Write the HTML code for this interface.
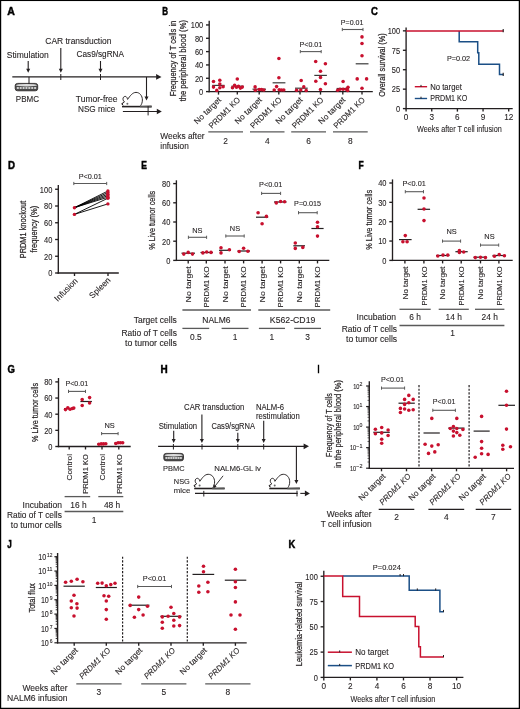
<!DOCTYPE html>
<html><head><meta charset="utf-8"><style>
html,body{margin:0;padding:0;background:#fff;width:520px;height:709px;overflow:hidden}
svg{display:block;will-change:transform}
text{font-family:"Liberation Sans", sans-serif;fill:#231f20;stroke:#231f20;stroke-width:0.1px}
</style></head><body>
<svg width="520" height="709" viewBox="0 0 520 709">
<rect width="520" height="709" fill="#fff"/>
<rect x="0" y="0" width="1.2" height="709" fill="#000"/>
<rect x="0" y="0" width="520" height="1.05" fill="#000"/>
<rect x="518.75" y="0" width="1.25" height="709" fill="#000"/>
<rect x="0" y="707.75" width="520" height="1.25" fill="#000"/>
<text x="7.3" y="14.6" textLength="7.6" lengthAdjust="spacingAndGlyphs" font-size="10.4" font-weight="bold" fill="#000" style="stroke:#000;stroke-width:0.45px;fill:#000">A</text>
<text x="45.3" y="44.2" textLength="66.2" lengthAdjust="spacingAndGlyphs" font-size="8.6">CAR transduction</text>
<text x="6.8" y="58.2" textLength="42" lengthAdjust="spacingAndGlyphs" font-size="8.6">Stimulation</text>
<text x="76.6" y="56.7" textLength="47.4" lengthAdjust="spacingAndGlyphs" font-size="8.6">Cas9/sgRNA</text>
<line x1="12.3" y1="76.9" x2="156.6" y2="76.9" stroke="#231f20" stroke-width="1.3"/>
<polygon points="156.1,74 156.1,79.8 161.5,76.9" fill="#231f20"/>
<line x1="28.2" y1="61" x2="28.2" y2="69.3" stroke="#231f20" stroke-width="1.1"/>
<polygon points="26.2,68.8 30.2,68.8 28.2,72.8" fill="#231f20"/>
<line x1="60.8" y1="48" x2="60.8" y2="69.3" stroke="#231f20" stroke-width="1.1"/>
<polygon points="58.8,68.8 62.8,68.8 60.8,72.8" fill="#231f20"/>
<line x1="100.5" y1="61" x2="100.5" y2="69.3" stroke="#231f20" stroke-width="1.1"/>
<polygon points="98.5,68.8 102.5,68.8 100.5,72.8" fill="#231f20"/>
<line x1="60.8" y1="74" x2="60.8" y2="80" stroke="#231f20" stroke-width="1.0"/>
<line x1="100.5" y1="74" x2="100.5" y2="80" stroke="#231f20" stroke-width="1.0"/>
<line x1="29" y1="77" x2="29" y2="86" stroke="#231f20" stroke-width="1.0"/>
<rect x="15.2" y="83.4" width="22.5" height="7.4" rx="2.4" ry="2.2" fill="#4a4a4a" stroke="#231f20" stroke-width="0.8"/>
<ellipse cx="26.45" cy="85.2" rx="10.55" ry="1.3" fill="#dcdcdc"/>
<ellipse cx="17.8" cy="88" rx="1.25" ry="0.95" fill="#d8d8d8"/>
<ellipse cx="20.68" cy="88" rx="1.25" ry="0.95" fill="#d8d8d8"/>
<ellipse cx="23.57" cy="88" rx="1.25" ry="0.95" fill="#d8d8d8"/>
<ellipse cx="26.45" cy="88" rx="1.25" ry="0.95" fill="#d8d8d8"/>
<ellipse cx="29.33" cy="88" rx="1.25" ry="0.95" fill="#d8d8d8"/>
<ellipse cx="32.22" cy="88" rx="1.25" ry="0.95" fill="#d8d8d8"/>
<ellipse cx="35.1" cy="88" rx="1.25" ry="0.95" fill="#d8d8d8"/>
<text x="15.8" y="101.6" textLength="23.2" lengthAdjust="spacingAndGlyphs" font-size="8.4">PBMC</text>
<text x="75.8" y="102.2" textLength="41.8" lengthAdjust="spacingAndGlyphs" font-size="8.4">Tumor-free</text>
<text x="77.95" y="112" textLength="37.5" lengthAdjust="spacingAndGlyphs" font-size="8.4">NSG mice</text>
<line x1="146.5" y1="77" x2="146.5" y2="97.1" stroke="#231f20" stroke-width="1.1"/>
<polygon points="144.5,96.6 148.5,96.6 146.5,100.6" fill="#231f20"/>
<path d="M127.6,99.4 C130,96 132.5,92.4 136,92.4 C139.6,92.4 142.4,95.6 142.4,100 C142.4,102.6 141.5,104.3 140.6,105.8" stroke="#231f20" stroke-width="0.95" fill="none"/>
<path d="M127.6,99.4 C127.2,97.8 126.5,96.4 125.3,96.4 C123.8,96.4 122.8,97.6 123,99.4 C123.1,100.6 123.8,101.4 124.5,101.9 L121.8,103.7 L123.2,105.4" stroke="#231f20" stroke-width="0.95" fill="none"/>
<circle cx="122.4" cy="104" r="0.75" fill="#231f20"/>
<circle cx="127.4" cy="103.7" r="1" fill="#666"/>
<line x1="122" y1="106.6" x2="151.6" y2="106.6" stroke="#231f20" stroke-width="1.6"/>
<path d="M140,106 L151.6,105.5 L151.6,107.4 L140,107.3 Z" fill="#555"/>
<line x1="122.9" y1="111.5" x2="157.3" y2="111.5" stroke="#231f20" stroke-width="1.1"/>
<polygon points="156.8,108.8 156.8,114.2 161.8,111.5" fill="#231f20"/>
<line x1="148.1" y1="106.1" x2="148.1" y2="115.4" stroke="#231f20" stroke-width="1.0"/>
<text x="162.3" y="14.6" textLength="5.8" lengthAdjust="spacingAndGlyphs" font-size="10.4" font-weight="bold" fill="#000" style="stroke:#000;stroke-width:0.45px;fill:#000">B</text>
<line x1="209.2" y1="20.7" x2="209.2" y2="92.27" stroke="#231f20" stroke-width="1.35"/>
<line x1="206" y1="91.6" x2="209.2" y2="91.6" stroke="#231f20" stroke-width="1.35"/>
<text x="199.05" y="94.9" textLength="4.15" lengthAdjust="spacingAndGlyphs" font-size="8.4">0</text>
<line x1="206" y1="78.27" x2="209.2" y2="78.27" stroke="#231f20" stroke-width="1.35"/>
<text x="194.9" y="81.57" textLength="8.3" lengthAdjust="spacingAndGlyphs" font-size="8.4">20</text>
<line x1="206" y1="64.94" x2="209.2" y2="64.94" stroke="#231f20" stroke-width="1.35"/>
<text x="194.9" y="68.24" textLength="8.3" lengthAdjust="spacingAndGlyphs" font-size="8.4">40</text>
<line x1="206" y1="51.61" x2="209.2" y2="51.61" stroke="#231f20" stroke-width="1.35"/>
<text x="194.9" y="54.91" textLength="8.3" lengthAdjust="spacingAndGlyphs" font-size="8.4">60</text>
<line x1="206" y1="38.28" x2="209.2" y2="38.28" stroke="#231f20" stroke-width="1.35"/>
<text x="194.9" y="41.58" textLength="8.3" lengthAdjust="spacingAndGlyphs" font-size="8.4">80</text>
<line x1="206" y1="24.95" x2="209.2" y2="24.95" stroke="#231f20" stroke-width="1.35"/>
<text x="190.75" y="28.25" textLength="12.45" lengthAdjust="spacingAndGlyphs" font-size="8.4">100</text>
<line x1="208.52" y1="91.6" x2="372.8" y2="91.6" stroke="#231f20" stroke-width="1.35"/>
<line x1="218.5" y1="91.6" x2="218.5" y2="94.6" stroke="#231f20" stroke-width="1.35"/>
<line x1="237.3" y1="91.6" x2="237.3" y2="94.6" stroke="#231f20" stroke-width="1.35"/>
<line x1="259.2" y1="91.6" x2="259.2" y2="94.6" stroke="#231f20" stroke-width="1.35"/>
<line x1="278.8" y1="91.6" x2="278.8" y2="94.6" stroke="#231f20" stroke-width="1.35"/>
<line x1="300" y1="91.6" x2="300" y2="94.6" stroke="#231f20" stroke-width="1.35"/>
<line x1="320.5" y1="91.6" x2="320.5" y2="94.6" stroke="#231f20" stroke-width="1.35"/>
<line x1="342.8" y1="91.6" x2="342.8" y2="94.6" stroke="#231f20" stroke-width="1.35"/>
<line x1="362" y1="91.6" x2="362" y2="94.6" stroke="#231f20" stroke-width="1.35"/>
<text transform="translate(175.85,58.5) rotate(-90)" x="-37.75" y="0" textLength="75.5" lengthAdjust="spacingAndGlyphs" font-size="8.8" style="stroke-width:0.22px">Frequency of T cells in</text>
<text transform="translate(185.95,60.7) rotate(-90)" x="-40.65" y="0" textLength="81.3" lengthAdjust="spacingAndGlyphs" font-size="8.8" style="stroke-width:0.22px">the peripheral blood (%)</text>
<line x1="212.2" y1="85.4" x2="224.6" y2="85.4" stroke="#3a3a3a" stroke-width="1.2"/>
<line x1="231.4" y1="86.2" x2="243.7" y2="86.2" stroke="#3a3a3a" stroke-width="1.2"/>
<line x1="252.5" y1="89.2" x2="266" y2="89.2" stroke="#3a3a3a" stroke-width="1.2"/>
<line x1="272.6" y1="82.8" x2="285.4" y2="82.8" stroke="#3a3a3a" stroke-width="1.2"/>
<line x1="295" y1="88.2" x2="307.7" y2="88.2" stroke="#3a3a3a" stroke-width="1.2"/>
<line x1="314.3" y1="75.4" x2="326.9" y2="75.4" stroke="#3a3a3a" stroke-width="1.2"/>
<line x1="336.6" y1="88.5" x2="348.9" y2="88.5" stroke="#3a3a3a" stroke-width="1.2"/>
<line x1="355.7" y1="63.8" x2="368.5" y2="63.8" stroke="#3a3a3a" stroke-width="1.2"/>
<line x1="300.3" y1="51.6" x2="321.2" y2="51.6" stroke="#5a5a5a" stroke-width="1.1"/>
<line x1="300.3" y1="50" x2="300.3" y2="53.2" stroke="#5a5a5a" stroke-width="0.9900000000000001"/>
<line x1="321.2" y1="50" x2="321.2" y2="53.2" stroke="#5a5a5a" stroke-width="0.9900000000000001"/>
<text x="299.6" y="46.9" textLength="22.6" lengthAdjust="spacingAndGlyphs" font-size="7.2">P&lt;0.01</text>
<line x1="342.3" y1="29.5" x2="363" y2="29.5" stroke="#5a5a5a" stroke-width="1.1"/>
<line x1="342.3" y1="27.9" x2="342.3" y2="31.1" stroke="#5a5a5a" stroke-width="0.9900000000000001"/>
<line x1="363" y1="27.9" x2="363" y2="31.1" stroke="#5a5a5a" stroke-width="0.9900000000000001"/>
<text x="340.8" y="24.6" textLength="22.6" lengthAdjust="spacingAndGlyphs" font-size="7.2">P=0.01</text>
<text transform="translate(221.7,100.4) rotate(-45)" x="-34.5" y="0" textLength="34.5" lengthAdjust="spacingAndGlyphs" font-size="8.2">No target</text>
<text transform="translate(240.7,100.4) rotate(-45)" x="-40.5" y="0" textLength="40.5" lengthAdjust="spacingAndGlyphs" font-size="8.2">PRDM1 KO</text>
<text transform="translate(262.4,100.4) rotate(-45)" x="-34.5" y="0" textLength="34.5" lengthAdjust="spacingAndGlyphs" font-size="8.2">No target</text>
<text transform="translate(282.2,100.4) rotate(-45)" x="-40.5" y="0" textLength="40.5" lengthAdjust="spacingAndGlyphs" font-size="8.2">PRDM1 KO</text>
<text transform="translate(303.2,100.4) rotate(-45)" x="-34.5" y="0" textLength="34.5" lengthAdjust="spacingAndGlyphs" font-size="8.2">No target</text>
<text transform="translate(323.9,100.4) rotate(-45)" x="-40.5" y="0" textLength="40.5" lengthAdjust="spacingAndGlyphs" font-size="8.2">PRDM1 KO</text>
<text transform="translate(346,100.4) rotate(-45)" x="-34.5" y="0" textLength="34.5" lengthAdjust="spacingAndGlyphs" font-size="8.2">No target</text>
<text transform="translate(365.4,100.4) rotate(-45)" x="-40.5" y="0" textLength="40.5" lengthAdjust="spacingAndGlyphs" font-size="8.2">PRDM1 KO</text>
<line x1="208.3" y1="131.8" x2="243" y2="131.8" stroke="#5a5a5a" stroke-width="1.3"/>
<text x="225.65" y="143.8" font-size="8.4" text-anchor="middle">2</text>
<line x1="250" y1="131.8" x2="284.5" y2="131.8" stroke="#5a5a5a" stroke-width="1.3"/>
<text x="267.25" y="143.8" font-size="8.4" text-anchor="middle">4</text>
<line x1="291.2" y1="131.8" x2="326" y2="131.8" stroke="#5a5a5a" stroke-width="1.3"/>
<text x="308.6" y="143.8" font-size="8.4" text-anchor="middle">6</text>
<line x1="333" y1="131.8" x2="367.7" y2="131.8" stroke="#5a5a5a" stroke-width="1.3"/>
<text x="350.35" y="143.8" font-size="8.4" text-anchor="middle">8</text>
<text x="160.3" y="138.6" textLength="44.3" lengthAdjust="spacingAndGlyphs" font-size="8.4">Weeks after</text>
<text x="160.3" y="148.5" textLength="28.5" lengthAdjust="spacingAndGlyphs" font-size="8.4">infusion</text>
<text x="371.1" y="14.8" textLength="6.9" lengthAdjust="spacingAndGlyphs" font-size="10.8" font-weight="bold" fill="#000" style="stroke:#000;stroke-width:0.45px;fill:#000">C</text>
<line x1="406.1" y1="27.4" x2="406.1" y2="109.27" stroke="#231f20" stroke-width="1.35"/>
<line x1="402.9" y1="108.6" x2="406.1" y2="108.6" stroke="#231f20" stroke-width="1.35"/>
<text x="395.95" y="111.9" textLength="4.15" lengthAdjust="spacingAndGlyphs" font-size="8.4">0</text>
<line x1="402.9" y1="89.16" x2="406.1" y2="89.16" stroke="#231f20" stroke-width="1.35"/>
<text x="391.8" y="92.46" textLength="8.3" lengthAdjust="spacingAndGlyphs" font-size="8.4">25</text>
<line x1="402.9" y1="69.72" x2="406.1" y2="69.72" stroke="#231f20" stroke-width="1.35"/>
<text x="391.8" y="73.02" textLength="8.3" lengthAdjust="spacingAndGlyphs" font-size="8.4">50</text>
<line x1="402.9" y1="50.29" x2="406.1" y2="50.29" stroke="#231f20" stroke-width="1.35"/>
<text x="391.8" y="53.59" textLength="8.3" lengthAdjust="spacingAndGlyphs" font-size="8.4">75</text>
<line x1="402.9" y1="30.85" x2="406.1" y2="30.85" stroke="#231f20" stroke-width="1.35"/>
<text x="387.65" y="34.15" textLength="12.45" lengthAdjust="spacingAndGlyphs" font-size="8.4">100</text>
<line x1="405.43" y1="108.6" x2="512.7" y2="108.6" stroke="#231f20" stroke-width="1.35"/>
<line x1="406.1" y1="108.6" x2="406.1" y2="111.6" stroke="#231f20" stroke-width="1.35"/>
<line x1="431.75" y1="108.6" x2="431.75" y2="111.6" stroke="#231f20" stroke-width="1.35"/>
<line x1="457.4" y1="108.6" x2="457.4" y2="111.6" stroke="#231f20" stroke-width="1.35"/>
<line x1="483.05" y1="108.6" x2="483.05" y2="111.6" stroke="#231f20" stroke-width="1.35"/>
<line x1="508.7" y1="108.6" x2="508.7" y2="111.6" stroke="#231f20" stroke-width="1.35"/>
<text x="406.1" y="119.9" font-size="8.2" text-anchor="middle">0</text>
<text x="431.75" y="119.9" font-size="8.2" text-anchor="middle">3</text>
<text x="457.4" y="119.9" font-size="8.2" text-anchor="middle">6</text>
<text x="483.05" y="119.9" font-size="8.2" text-anchor="middle">9</text>
<text x="508.7" y="119.9" font-size="8.2" text-anchor="middle">12</text>
<text x="417.1" y="132.2" textLength="84.6" lengthAdjust="spacingAndGlyphs" font-size="9.5">Weeks after T cell infusion</text>
<text transform="translate(384.5,65) rotate(-90)" x="-31.7" y="0" textLength="63.4" lengthAdjust="spacingAndGlyphs" font-size="8.5" style="stroke-width:0.22px">Overall survival (%)</text>
<path d="M459.2,30.9 V41.8 H477.7 V52.8 H478.8 V64.2 H499.5 V74.6 H503.5" stroke="#1b4f86" stroke-width="1.5" fill="none"/>
<path d="M406.1,30.9 H503.5" stroke="#c8102e" stroke-width="1.5" fill="none"/>
<line x1="503.2" y1="29" x2="503.2" y2="32.2" stroke="#231f20" stroke-width="1.1"/>
<line x1="503.2" y1="72.8" x2="503.2" y2="76" stroke="#231f20" stroke-width="1.1"/>
<text x="446.9" y="60.9" textLength="23.2" lengthAdjust="spacingAndGlyphs" font-size="7.4">P=0.02</text>
<line x1="414.8" y1="86.7" x2="427.1" y2="86.7" stroke="#c8102e" stroke-width="1.4"/>
<line x1="421" y1="84.9" x2="421" y2="86.8" stroke="#231f20" stroke-width="1.0"/>
<text x="430.2" y="89.9" textLength="31.7" lengthAdjust="spacingAndGlyphs" font-size="8.2">No target</text>
<line x1="414.8" y1="98.5" x2="427.1" y2="98.5" stroke="#1b4f86" stroke-width="1.4"/>
<line x1="421" y1="96.7" x2="421" y2="98.6" stroke="#231f20" stroke-width="1.0"/>
<text x="430.2" y="100.5" textLength="37.1" lengthAdjust="spacingAndGlyphs" font-size="8.2">PRDM1 KO</text>
<text x="8" y="168.6" textLength="7" lengthAdjust="spacingAndGlyphs" font-size="10.4" font-weight="bold" fill="#000" style="stroke:#000;stroke-width:0.45px;fill:#000">D</text>
<line x1="58.3" y1="185" x2="58.3" y2="273.68" stroke="#231f20" stroke-width="1.35"/>
<line x1="55.1" y1="273" x2="58.3" y2="273" stroke="#231f20" stroke-width="1.35"/>
<text x="48.15" y="276.3" textLength="4.15" lengthAdjust="spacingAndGlyphs" font-size="8.4">0</text>
<line x1="55.1" y1="256.25" x2="58.3" y2="256.25" stroke="#231f20" stroke-width="1.35"/>
<text x="44" y="259.55" textLength="8.3" lengthAdjust="spacingAndGlyphs" font-size="8.4">20</text>
<line x1="55.1" y1="239.5" x2="58.3" y2="239.5" stroke="#231f20" stroke-width="1.35"/>
<text x="44" y="242.8" textLength="8.3" lengthAdjust="spacingAndGlyphs" font-size="8.4">40</text>
<line x1="55.1" y1="222.75" x2="58.3" y2="222.75" stroke="#231f20" stroke-width="1.35"/>
<text x="44" y="226.05" textLength="8.3" lengthAdjust="spacingAndGlyphs" font-size="8.4">60</text>
<line x1="55.1" y1="206" x2="58.3" y2="206" stroke="#231f20" stroke-width="1.35"/>
<text x="44" y="209.3" textLength="8.3" lengthAdjust="spacingAndGlyphs" font-size="8.4">80</text>
<line x1="55.1" y1="189.25" x2="58.3" y2="189.25" stroke="#231f20" stroke-width="1.35"/>
<text x="39.85" y="192.55" textLength="12.45" lengthAdjust="spacingAndGlyphs" font-size="8.4">100</text>
<line x1="57.62" y1="273" x2="118.8" y2="273" stroke="#231f20" stroke-width="1.35"/>
<line x1="74.5" y1="273" x2="74.5" y2="276" stroke="#231f20" stroke-width="1.35"/>
<line x1="108" y1="273" x2="108" y2="276" stroke="#231f20" stroke-width="1.35"/>
<text transform="translate(26.2,229.5) rotate(-90)" x="-28.75" y="0" textLength="57.5" lengthAdjust="spacingAndGlyphs" font-size="9.5" style="stroke-width:0.22px">PRDM1 knockout</text>
<text transform="translate(36.8,229.2) rotate(-90)" x="-23.4" y="0" textLength="46.8" lengthAdjust="spacingAndGlyphs" font-size="9" style="stroke-width:0.22px">frequency (%)</text>
<line x1="73.8" y1="183.5" x2="106.7" y2="183.5" stroke="#5a5a5a" stroke-width="1.1"/>
<line x1="73.8" y1="181.9" x2="73.8" y2="185.1" stroke="#5a5a5a" stroke-width="0.9900000000000001"/>
<line x1="106.7" y1="181.9" x2="106.7" y2="185.1" stroke="#5a5a5a" stroke-width="0.9900000000000001"/>
<text x="78.7" y="178.8" textLength="23.2" lengthAdjust="spacingAndGlyphs" font-size="7.2">P&lt;0.01</text>
<line x1="74.4" y1="207.7" x2="107.9" y2="191" stroke="#000" stroke-width="0.9"/>
<line x1="74.4" y1="207.7" x2="107.9" y2="192.6" stroke="#000" stroke-width="0.9"/>
<line x1="74.4" y1="207.7" x2="107.9" y2="194.2" stroke="#000" stroke-width="0.9"/>
<line x1="74.4" y1="207.7" x2="107.9" y2="195.7" stroke="#000" stroke-width="0.9"/>
<line x1="74.4" y1="207.7" x2="107.9" y2="197.2" stroke="#000" stroke-width="0.9"/>
<line x1="74.4" y1="214.4" x2="107.9" y2="198.2" stroke="#000" stroke-width="0.9"/>
<line x1="74.4" y1="214.4" x2="107.9" y2="203.9" stroke="#000" stroke-width="0.9"/>
<text transform="translate(78.3,281.4) rotate(-45)" x="-29" y="0" textLength="29" lengthAdjust="spacingAndGlyphs" font-size="8.4">Infusion</text>
<text transform="translate(111,280.6) rotate(-45)" x="-26" y="0" textLength="26" lengthAdjust="spacingAndGlyphs" font-size="8.4">Spleen</text>
<text x="141.3" y="168.7" textLength="5.7" lengthAdjust="spacingAndGlyphs" font-size="10.4" font-weight="bold" fill="#000" style="stroke:#000;stroke-width:0.45px;fill:#000">E</text>
<line x1="176.4" y1="180.3" x2="176.4" y2="261.07" stroke="#231f20" stroke-width="1.35"/>
<line x1="173.2" y1="260.4" x2="176.4" y2="260.4" stroke="#231f20" stroke-width="1.35"/>
<text x="166.25" y="263.7" textLength="4.15" lengthAdjust="spacingAndGlyphs" font-size="8.4">0</text>
<line x1="173.2" y1="241.2" x2="176.4" y2="241.2" stroke="#231f20" stroke-width="1.35"/>
<text x="162.1" y="244.5" textLength="8.3" lengthAdjust="spacingAndGlyphs" font-size="8.4">20</text>
<line x1="173.2" y1="222" x2="176.4" y2="222" stroke="#231f20" stroke-width="1.35"/>
<text x="162.1" y="225.3" textLength="8.3" lengthAdjust="spacingAndGlyphs" font-size="8.4">40</text>
<line x1="173.2" y1="202.8" x2="176.4" y2="202.8" stroke="#231f20" stroke-width="1.35"/>
<text x="162.1" y="206.1" textLength="8.3" lengthAdjust="spacingAndGlyphs" font-size="8.4">60</text>
<line x1="173.2" y1="183.6" x2="176.4" y2="183.6" stroke="#231f20" stroke-width="1.35"/>
<text x="162.1" y="186.9" textLength="8.3" lengthAdjust="spacingAndGlyphs" font-size="8.4">80</text>
<line x1="175.72" y1="260.4" x2="329.3" y2="260.4" stroke="#231f20" stroke-width="1.35"/>
<line x1="188.2" y1="260.4" x2="188.2" y2="263.4" stroke="#231f20" stroke-width="1.35"/>
<line x1="206.3" y1="260.4" x2="206.3" y2="263.4" stroke="#231f20" stroke-width="1.35"/>
<line x1="225" y1="260.4" x2="225" y2="263.4" stroke="#231f20" stroke-width="1.35"/>
<line x1="243.6" y1="260.4" x2="243.6" y2="263.4" stroke="#231f20" stroke-width="1.35"/>
<line x1="262.1" y1="260.4" x2="262.1" y2="263.4" stroke="#231f20" stroke-width="1.35"/>
<line x1="280.6" y1="260.4" x2="280.6" y2="263.4" stroke="#231f20" stroke-width="1.35"/>
<line x1="299.3" y1="260.4" x2="299.3" y2="263.4" stroke="#231f20" stroke-width="1.35"/>
<line x1="317.5" y1="260.4" x2="317.5" y2="263.4" stroke="#231f20" stroke-width="1.35"/>
<text transform="translate(155.3,220.3) rotate(-90)" x="-29.5" y="0" textLength="59" lengthAdjust="spacingAndGlyphs" font-size="9.5" style="stroke-width:0.22px">% Live tumor cells</text>
<line x1="181.5" y1="253.2" x2="195" y2="253.2" stroke="#231f20" stroke-width="1.2"/>
<line x1="200.5" y1="252.5" x2="213" y2="252.5" stroke="#231f20" stroke-width="1.2"/>
<line x1="219" y1="250.3" x2="231" y2="250.3" stroke="#231f20" stroke-width="1.2"/>
<line x1="237.5" y1="251" x2="250" y2="251" stroke="#231f20" stroke-width="1.2"/>
<line x1="256" y1="217.2" x2="268.2" y2="217.2" stroke="#231f20" stroke-width="1.2"/>
<line x1="274" y1="202" x2="286.5" y2="202" stroke="#231f20" stroke-width="1.2"/>
<line x1="293.3" y1="245.8" x2="305" y2="245.8" stroke="#231f20" stroke-width="1.2"/>
<line x1="311.4" y1="228.5" x2="323.6" y2="228.5" stroke="#231f20" stroke-width="1.2"/>
<line x1="188.4" y1="237.3" x2="206.6" y2="237.3" stroke="#5a5a5a" stroke-width="1.1"/>
<line x1="188.4" y1="235.7" x2="188.4" y2="238.9" stroke="#5a5a5a" stroke-width="0.9900000000000001"/>
<line x1="206.6" y1="235.7" x2="206.6" y2="238.9" stroke="#5a5a5a" stroke-width="0.9900000000000001"/>
<text x="197.4" y="232.5" font-size="7.4" text-anchor="middle">NS</text>
<line x1="225.8" y1="236" x2="244.2" y2="236" stroke="#5a5a5a" stroke-width="1.1"/>
<line x1="225.8" y1="234.4" x2="225.8" y2="237.6" stroke="#5a5a5a" stroke-width="0.9900000000000001"/>
<line x1="244.2" y1="234.4" x2="244.2" y2="237.6" stroke="#5a5a5a" stroke-width="0.9900000000000001"/>
<text x="235" y="230.9" font-size="7.4" text-anchor="middle">NS</text>
<line x1="261.6" y1="193.4" x2="280.6" y2="193.4" stroke="#5a5a5a" stroke-width="1.1"/>
<line x1="261.6" y1="191.8" x2="261.6" y2="195" stroke="#5a5a5a" stroke-width="0.9900000000000001"/>
<line x1="280.6" y1="191.8" x2="280.6" y2="195" stroke="#5a5a5a" stroke-width="0.9900000000000001"/>
<text x="259" y="187.4" textLength="23.4" lengthAdjust="spacingAndGlyphs" font-size="7.2">P&lt;0.01</text>
<line x1="298.5" y1="212.7" x2="317.2" y2="212.7" stroke="#5a5a5a" stroke-width="1.1"/>
<line x1="298.5" y1="211.1" x2="298.5" y2="214.3" stroke="#5a5a5a" stroke-width="0.9900000000000001"/>
<line x1="317.2" y1="211.1" x2="317.2" y2="214.3" stroke="#5a5a5a" stroke-width="0.9900000000000001"/>
<text x="294.1" y="206.4" textLength="27" lengthAdjust="spacingAndGlyphs" font-size="7.2">P=0.015</text>
<text transform="translate(191,266.4) rotate(-90)" x="-36" y="0" textLength="36" lengthAdjust="spacingAndGlyphs" font-size="8">No target</text>
<text transform="translate(209.1,266.4) rotate(-90)" x="-41" y="0" textLength="41" lengthAdjust="spacingAndGlyphs" font-size="8">PRDM1 KO</text>
<text transform="translate(227.8,266.4) rotate(-90)" x="-36" y="0" textLength="36" lengthAdjust="spacingAndGlyphs" font-size="8">No target</text>
<text transform="translate(246.4,266.4) rotate(-90)" x="-41" y="0" textLength="41" lengthAdjust="spacingAndGlyphs" font-size="8">PRDM1 KO</text>
<text transform="translate(264.9,266.4) rotate(-90)" x="-36" y="0" textLength="36" lengthAdjust="spacingAndGlyphs" font-size="8">No target</text>
<text transform="translate(283.4,266.4) rotate(-90)" x="-41" y="0" textLength="41" lengthAdjust="spacingAndGlyphs" font-size="8">PRDM1 KO</text>
<text transform="translate(302.1,266.4) rotate(-90)" x="-36" y="0" textLength="36" lengthAdjust="spacingAndGlyphs" font-size="8">No target</text>
<text transform="translate(320.3,266.4) rotate(-90)" x="-41" y="0" textLength="41" lengthAdjust="spacingAndGlyphs" font-size="8">PRDM1 KO</text>
<line x1="182.4" y1="310" x2="251" y2="310" stroke="#5a5a5a" stroke-width="1.3"/>
<line x1="258.3" y1="310" x2="330.2" y2="310" stroke="#5a5a5a" stroke-width="1.3"/>
<text x="202.25" y="322.5" textLength="28.3" lengthAdjust="spacingAndGlyphs" font-size="8.4">NALM6</text>
<text x="269.85" y="322.5" textLength="45.5" lengthAdjust="spacingAndGlyphs" font-size="8.4">K562-CD19</text>
<line x1="182.4" y1="328.4" x2="209.2" y2="328.4" stroke="#5a5a5a" stroke-width="1.3"/>
<text x="195.8" y="339.6" font-size="8.4" text-anchor="middle">0.5</text>
<line x1="221.6" y1="328.4" x2="248.5" y2="328.4" stroke="#5a5a5a" stroke-width="1.3"/>
<text x="235.05" y="339.6" font-size="8.4" text-anchor="middle">1</text>
<line x1="258.9" y1="328.4" x2="285" y2="328.4" stroke="#5a5a5a" stroke-width="1.3"/>
<text x="271.95" y="339.6" font-size="8.4" text-anchor="middle">1</text>
<line x1="294.2" y1="328.4" x2="321" y2="328.4" stroke="#5a5a5a" stroke-width="1.3"/>
<text x="307.6" y="339.6" font-size="8.4" text-anchor="middle">3</text>
<text x="133.7" y="322.5" textLength="43.2" lengthAdjust="spacingAndGlyphs" font-size="8.4">Target cells</text>
<text x="121.5" y="336.2" textLength="55.4" lengthAdjust="spacingAndGlyphs" font-size="8.4">Ratio of T cells</text>
<text x="125" y="345.8" textLength="51.9" lengthAdjust="spacingAndGlyphs" font-size="8.4">to tumor cells</text>
<text x="358.5" y="168.6" textLength="5.2" lengthAdjust="spacingAndGlyphs" font-size="10.4" font-weight="bold" fill="#000" style="stroke:#000;stroke-width:0.45px;fill:#000">F</text>
<line x1="392.5" y1="179.4" x2="392.5" y2="261.07" stroke="#231f20" stroke-width="1.35"/>
<line x1="389.3" y1="260.4" x2="392.5" y2="260.4" stroke="#231f20" stroke-width="1.35"/>
<text x="382.35" y="263.7" textLength="4.15" lengthAdjust="spacingAndGlyphs" font-size="8.4">0</text>
<line x1="389.3" y1="241.05" x2="392.5" y2="241.05" stroke="#231f20" stroke-width="1.35"/>
<text x="378.2" y="244.35" textLength="8.3" lengthAdjust="spacingAndGlyphs" font-size="8.4">10</text>
<line x1="389.3" y1="221.7" x2="392.5" y2="221.7" stroke="#231f20" stroke-width="1.35"/>
<text x="378.2" y="225" textLength="8.3" lengthAdjust="spacingAndGlyphs" font-size="8.4">20</text>
<line x1="389.3" y1="202.35" x2="392.5" y2="202.35" stroke="#231f20" stroke-width="1.35"/>
<text x="378.2" y="205.65" textLength="8.3" lengthAdjust="spacingAndGlyphs" font-size="8.4">30</text>
<line x1="389.3" y1="183" x2="392.5" y2="183" stroke="#231f20" stroke-width="1.35"/>
<text x="378.2" y="186.3" textLength="8.3" lengthAdjust="spacingAndGlyphs" font-size="8.4">40</text>
<line x1="391.82" y1="260.4" x2="512.7" y2="260.4" stroke="#231f20" stroke-width="1.35"/>
<line x1="404.9" y1="260.4" x2="404.9" y2="263.4" stroke="#231f20" stroke-width="1.35"/>
<line x1="423.9" y1="260.4" x2="423.9" y2="263.4" stroke="#231f20" stroke-width="1.35"/>
<line x1="442.6" y1="260.4" x2="442.6" y2="263.4" stroke="#231f20" stroke-width="1.35"/>
<line x1="461.2" y1="260.4" x2="461.2" y2="263.4" stroke="#231f20" stroke-width="1.35"/>
<line x1="480.5" y1="260.4" x2="480.5" y2="263.4" stroke="#231f20" stroke-width="1.35"/>
<line x1="498.9" y1="260.4" x2="498.9" y2="263.4" stroke="#231f20" stroke-width="1.35"/>
<text transform="translate(372.2,219.8) rotate(-90)" x="-29.95" y="0" textLength="59.9" lengthAdjust="spacingAndGlyphs" font-size="9.5" style="stroke-width:0.22px">% Live tumor cells</text>
<line x1="399" y1="239.6" x2="411.6" y2="239.6" stroke="#231f20" stroke-width="1.2"/>
<line x1="417.6" y1="209.3" x2="430.1" y2="209.3" stroke="#231f20" stroke-width="1.2"/>
<line x1="436" y1="255.5" x2="449.5" y2="255.5" stroke="#231f20" stroke-width="1.2"/>
<line x1="455.4" y1="251.7" x2="467.7" y2="251.7" stroke="#231f20" stroke-width="1.2"/>
<line x1="473.5" y1="257.2" x2="487" y2="257.2" stroke="#231f20" stroke-width="1.2"/>
<line x1="492.5" y1="255.5" x2="506" y2="255.5" stroke="#231f20" stroke-width="1.2"/>
<line x1="405.3" y1="191.7" x2="423.5" y2="191.7" stroke="#5a5a5a" stroke-width="1.1"/>
<line x1="405.3" y1="190.1" x2="405.3" y2="193.3" stroke="#5a5a5a" stroke-width="0.9900000000000001"/>
<line x1="423.5" y1="190.1" x2="423.5" y2="193.3" stroke="#5a5a5a" stroke-width="0.9900000000000001"/>
<text x="402.4" y="185.6" textLength="23.4" lengthAdjust="spacingAndGlyphs" font-size="7.2">P&lt;0.01</text>
<line x1="442.5" y1="241.1" x2="460.6" y2="241.1" stroke="#5a5a5a" stroke-width="1.1"/>
<line x1="442.5" y1="239.5" x2="442.5" y2="242.7" stroke="#5a5a5a" stroke-width="0.9900000000000001"/>
<line x1="460.6" y1="239.5" x2="460.6" y2="242.7" stroke="#5a5a5a" stroke-width="0.9900000000000001"/>
<text x="451.6" y="234.3" font-size="7.4" text-anchor="middle">NS</text>
<line x1="480.5" y1="245.1" x2="498.7" y2="245.1" stroke="#5a5a5a" stroke-width="1.1"/>
<line x1="480.5" y1="243.5" x2="480.5" y2="246.7" stroke="#5a5a5a" stroke-width="0.9900000000000001"/>
<line x1="498.7" y1="243.5" x2="498.7" y2="246.7" stroke="#5a5a5a" stroke-width="0.9900000000000001"/>
<text x="489.5" y="238.5" font-size="7.4" text-anchor="middle">NS</text>
<text transform="translate(407.7,266.4) rotate(-90)" x="-33" y="0" textLength="33" lengthAdjust="spacingAndGlyphs" font-size="8">No target</text>
<text transform="translate(426.7,266.4) rotate(-90)" x="-39" y="0" textLength="39" lengthAdjust="spacingAndGlyphs" font-size="8">PRDM1 KO</text>
<text transform="translate(445.4,266.4) rotate(-90)" x="-33" y="0" textLength="33" lengthAdjust="spacingAndGlyphs" font-size="8">No target</text>
<text transform="translate(464,266.4) rotate(-90)" x="-39" y="0" textLength="39" lengthAdjust="spacingAndGlyphs" font-size="8">PRDM1 KO</text>
<text transform="translate(483.3,266.4) rotate(-90)" x="-33" y="0" textLength="33" lengthAdjust="spacingAndGlyphs" font-size="8">No target</text>
<text transform="translate(501.7,266.4) rotate(-90)" x="-39" y="0" textLength="39" lengthAdjust="spacingAndGlyphs" font-size="8">PRDM1 KO</text>
<line x1="399.5" y1="309.3" x2="430.7" y2="309.3" stroke="#5a5a5a" stroke-width="1.3"/>
<text x="415.1" y="320.1" font-size="8.4" text-anchor="middle">6 h</text>
<line x1="438.7" y1="309.3" x2="468.8" y2="309.3" stroke="#5a5a5a" stroke-width="1.3"/>
<text x="453.75" y="320.1" font-size="8.4" text-anchor="middle">14 h</text>
<line x1="475" y1="309.3" x2="504.4" y2="309.3" stroke="#5a5a5a" stroke-width="1.3"/>
<text x="489.7" y="320.1" font-size="8.4" text-anchor="middle">24 h</text>
<text x="356.6" y="320.1" textLength="39.4" lengthAdjust="spacingAndGlyphs" font-size="8.4">Incubation</text>
<line x1="399.5" y1="325.5" x2="504.4" y2="325.5" stroke="#5a5a5a" stroke-width="1.3"/>
<text x="341.7" y="332.1" textLength="55.4" lengthAdjust="spacingAndGlyphs" font-size="8.4">Ratio of T cells</text>
<text x="346" y="342.4" textLength="51.1" lengthAdjust="spacingAndGlyphs" font-size="8.4">to tumor cells</text>
<text x="452.5" y="336.4" font-size="8.4" text-anchor="middle">1</text>
<text x="7.5" y="372.6" textLength="7.4" lengthAdjust="spacingAndGlyphs" font-size="10.4" font-weight="bold" fill="#000" style="stroke:#000;stroke-width:0.45px;fill:#000">G</text>
<line x1="58.5" y1="378" x2="58.5" y2="447.18" stroke="#231f20" stroke-width="1.35"/>
<line x1="55.3" y1="446.5" x2="58.5" y2="446.5" stroke="#231f20" stroke-width="1.35"/>
<text x="48.35" y="449.8" textLength="4.15" lengthAdjust="spacingAndGlyphs" font-size="8.4">0</text>
<line x1="55.3" y1="430.35" x2="58.5" y2="430.35" stroke="#231f20" stroke-width="1.35"/>
<text x="44.2" y="433.65" textLength="8.3" lengthAdjust="spacingAndGlyphs" font-size="8.4">20</text>
<line x1="55.3" y1="414.2" x2="58.5" y2="414.2" stroke="#231f20" stroke-width="1.35"/>
<text x="44.2" y="417.5" textLength="8.3" lengthAdjust="spacingAndGlyphs" font-size="8.4">40</text>
<line x1="55.3" y1="398.05" x2="58.5" y2="398.05" stroke="#231f20" stroke-width="1.35"/>
<text x="44.2" y="401.35" textLength="8.3" lengthAdjust="spacingAndGlyphs" font-size="8.4">60</text>
<line x1="55.3" y1="381.9" x2="58.5" y2="381.9" stroke="#231f20" stroke-width="1.35"/>
<text x="44.2" y="385.2" textLength="8.3" lengthAdjust="spacingAndGlyphs" font-size="8.4">80</text>
<line x1="57.83" y1="446.5" x2="130.7" y2="446.5" stroke="#231f20" stroke-width="1.35"/>
<line x1="69.2" y1="446.5" x2="69.2" y2="449.5" stroke="#231f20" stroke-width="1.35"/>
<line x1="85.5" y1="446.5" x2="85.5" y2="449.5" stroke="#231f20" stroke-width="1.35"/>
<line x1="102" y1="446.5" x2="102" y2="449.5" stroke="#231f20" stroke-width="1.35"/>
<line x1="118.8" y1="446.5" x2="118.8" y2="449.5" stroke="#231f20" stroke-width="1.35"/>
<text transform="translate(38,412.5) rotate(-90)" x="-29.6" y="0" textLength="59.2" lengthAdjust="spacingAndGlyphs" font-size="9.5" style="stroke-width:0.22px">% Live tumor cells</text>
<line x1="64" y1="408.6" x2="75" y2="408.6" stroke="#231f20" stroke-width="1.2"/>
<line x1="80.4" y1="401.5" x2="91.9" y2="401.5" stroke="#231f20" stroke-width="1.2"/>
<line x1="97.5" y1="444" x2="107" y2="444" stroke="#231f20" stroke-width="1.2"/>
<line x1="114.5" y1="443" x2="124" y2="443" stroke="#231f20" stroke-width="1.2"/>
<line x1="68.5" y1="391.4" x2="85.5" y2="391.4" stroke="#5a5a5a" stroke-width="1.1"/>
<line x1="68.5" y1="389.8" x2="68.5" y2="393" stroke="#5a5a5a" stroke-width="0.9900000000000001"/>
<line x1="85.5" y1="389.8" x2="85.5" y2="393" stroke="#5a5a5a" stroke-width="0.9900000000000001"/>
<text x="65.5" y="386.1" textLength="22.6" lengthAdjust="spacingAndGlyphs" font-size="7.2">P&lt;0.01</text>
<line x1="101.6" y1="433.6" x2="118.1" y2="433.6" stroke="#5a5a5a" stroke-width="1.1"/>
<line x1="101.6" y1="432" x2="101.6" y2="435.2" stroke="#5a5a5a" stroke-width="0.9900000000000001"/>
<line x1="118.1" y1="432" x2="118.1" y2="435.2" stroke="#5a5a5a" stroke-width="0.9900000000000001"/>
<text x="109.6" y="428.1" font-size="7.4" text-anchor="middle">NS</text>
<text transform="translate(72,454) rotate(-90)" x="-26.5" y="0" textLength="26.5" lengthAdjust="spacingAndGlyphs" font-size="8">Control</text>
<text transform="translate(88.3,454) rotate(-90)" x="-39.8" y="0" textLength="39.8" lengthAdjust="spacingAndGlyphs" font-size="8">PRDM1 KO</text>
<text transform="translate(104.8,454) rotate(-90)" x="-26.5" y="0" textLength="26.5" lengthAdjust="spacingAndGlyphs" font-size="8">Control</text>
<text transform="translate(121.6,454) rotate(-90)" x="-39.8" y="0" textLength="39.8" lengthAdjust="spacingAndGlyphs" font-size="8">PRDM1 KO</text>
<line x1="64.6" y1="496.6" x2="90.2" y2="496.6" stroke="#5a5a5a" stroke-width="1.3"/>
<text x="78.4" y="507.8" font-size="8.4" text-anchor="middle">16 h</text>
<line x1="98.3" y1="496.6" x2="123.3" y2="496.6" stroke="#5a5a5a" stroke-width="1.3"/>
<text x="112.1" y="507.8" font-size="8.4" text-anchor="middle">48 h</text>
<text x="22.6" y="507.8" textLength="39.3" lengthAdjust="spacingAndGlyphs" font-size="8.4">Incubation</text>
<line x1="64.6" y1="511.5" x2="123.3" y2="511.5" stroke="#5a5a5a" stroke-width="1.3"/>
<text x="7" y="517.5" textLength="54.9" lengthAdjust="spacingAndGlyphs" font-size="8.4">Ratio of T cells</text>
<text x="10.8" y="528.4" textLength="51.1" lengthAdjust="spacingAndGlyphs" font-size="8.4">to tumor cells</text>
<text x="94.2" y="523.2" font-size="8.4" text-anchor="middle">1</text>
<text x="160.5" y="372.6" textLength="7.2" lengthAdjust="spacingAndGlyphs" font-size="10.4" font-weight="bold" fill="#000" style="stroke:#000;stroke-width:0.45px;fill:#000">H</text>
<text x="184.1" y="409.8" textLength="60.2" lengthAdjust="spacingAndGlyphs" font-size="8.2">CAR transduction</text>
<text x="158.7" y="429.2" textLength="38.4" lengthAdjust="spacingAndGlyphs" font-size="8.2">Stimulation</text>
<text x="211.5" y="429.2" textLength="43.5" lengthAdjust="spacingAndGlyphs" font-size="8.2">Cas9/sgRNA</text>
<text x="255.9" y="409.9" textLength="28.2" lengthAdjust="spacingAndGlyphs" font-size="8.2">NALM-6</text>
<text x="255.9" y="419.1" textLength="43.8" lengthAdjust="spacingAndGlyphs" font-size="8.2">restimulation</text>
<line x1="158.1" y1="446.3" x2="304.1" y2="446.3" stroke="#231f20" stroke-width="1.3"/>
<polygon points="303.6,443.4 303.6,449.2 309,446.3" fill="#231f20"/>
<line x1="173.7" y1="430.8" x2="173.7" y2="439.5" stroke="#231f20" stroke-width="1.1"/>
<polygon points="171.7,439 175.7,439 173.7,443" fill="#231f20"/>
<line x1="201.9" y1="414.4" x2="201.9" y2="439.5" stroke="#231f20" stroke-width="1.1"/>
<polygon points="199.9,439 203.9,439 201.9,443" fill="#231f20"/>
<line x1="237.8" y1="432.7" x2="237.8" y2="439.5" stroke="#231f20" stroke-width="1.1"/>
<polygon points="235.8,439 239.8,439 237.8,443" fill="#231f20"/>
<line x1="263.7" y1="420.8" x2="263.7" y2="439.5" stroke="#231f20" stroke-width="1.1"/>
<polygon points="261.7,439 265.7,439 263.7,443" fill="#231f20"/>
<line x1="173.4" y1="444" x2="173.4" y2="449.5" stroke="#231f20" stroke-width="1.0"/>
<line x1="202" y1="444" x2="202" y2="449.5" stroke="#231f20" stroke-width="1.0"/>
<line x1="237.8" y1="444" x2="237.8" y2="449.5" stroke="#231f20" stroke-width="1.0"/>
<line x1="263.7" y1="444" x2="263.7" y2="449.5" stroke="#231f20" stroke-width="1.0"/>
<rect x="163.8" y="453.4" width="19.7" height="7.4" rx="2.4" ry="2.2" fill="#4a4a4a" stroke="#231f20" stroke-width="0.8"/>
<ellipse cx="173.65" cy="455.2" rx="9.15" ry="1.3" fill="#dcdcdc"/>
<ellipse cx="166.4" cy="458" rx="1.25" ry="0.95" fill="#d8d8d8"/>
<ellipse cx="168.82" cy="458" rx="1.25" ry="0.95" fill="#d8d8d8"/>
<ellipse cx="171.23" cy="458" rx="1.25" ry="0.95" fill="#d8d8d8"/>
<ellipse cx="173.65" cy="458" rx="1.25" ry="0.95" fill="#d8d8d8"/>
<ellipse cx="176.07" cy="458" rx="1.25" ry="0.95" fill="#d8d8d8"/>
<ellipse cx="178.48" cy="458" rx="1.25" ry="0.95" fill="#d8d8d8"/>
<ellipse cx="180.9" cy="458" rx="1.25" ry="0.95" fill="#d8d8d8"/>
<text x="163.05" y="470.8" textLength="21.5" lengthAdjust="spacingAndGlyphs" font-size="7.8">PBMC</text>
<text x="214.3" y="470.8" textLength="46.5" lengthAdjust="spacingAndGlyphs" font-size="7.8">NALM6-GL iv</text>
<text x="173.8" y="483.8" textLength="16" lengthAdjust="spacingAndGlyphs" font-size="7.8">NSG</text>
<text x="173.75" y="493.1" textLength="16.5" lengthAdjust="spacingAndGlyphs" font-size="7.8">mice</text>
<path d="M199.8,481.3 C202.2,477.9 204.7,474.3 208.2,474.3 C211.8,474.3 214.6,477.5 214.6,481.9 C214.6,484.5 213.7,486.2 212.8,487.7" stroke="#231f20" stroke-width="0.95" fill="none"/>
<path d="M199.8,481.3 C199.4,479.7 198.7,478.3 197.5,478.3 C196,478.3 195,479.5 195.2,481.3 C195.3,482.5 196,483.3 196.7,483.8 L194,485.6 L195.4,487.3" stroke="#231f20" stroke-width="0.95" fill="none"/>
<circle cx="194.6" cy="485.9" r="0.75" fill="#231f20"/>
<circle cx="199.6" cy="485.6" r="1" fill="#666"/>
<line x1="194.2" y1="488.5" x2="224.6" y2="488.5" stroke="#231f20" stroke-width="1.6"/>
<path d="M212.2,487.9 L224.6,487.4 L224.6,489.3 L212.2,489.2 Z" fill="#555"/>
<line x1="223.1" y1="475.8" x2="215.2" y2="485.9" stroke="#231f20" stroke-width="0.9"/>
<polygon points="213.4,488.3 213.6,484.4 216.6,486.7" fill="#231f20"/>
<path d="M274.9,481.3 C277.3,477.9 279.8,474.3 283.3,474.3 C286.9,474.3 289.7,477.5 289.7,481.9 C289.7,484.5 288.8,486.2 287.9,487.7" stroke="#231f20" stroke-width="0.95" fill="none"/>
<path d="M274.9,481.3 C274.5,479.7 273.8,478.3 272.6,478.3 C271.1,478.3 270.1,479.5 270.3,481.3 C270.4,482.5 271.1,483.3 271.8,483.8 L269.1,485.6 L270.5,487.3" stroke="#231f20" stroke-width="0.95" fill="none"/>
<circle cx="269.7" cy="485.9" r="0.75" fill="#231f20"/>
<circle cx="274.7" cy="485.6" r="1" fill="#666"/>
<line x1="269.3" y1="488.5" x2="299.8" y2="488.5" stroke="#231f20" stroke-width="1.6"/>
<path d="M287.3,487.9 L299.8,487.4 L299.8,489.3 L287.3,489.2 Z" fill="#555"/>
<line x1="296.4" y1="446.3" x2="296.4" y2="480.5" stroke="#231f20" stroke-width="1.1"/>
<polygon points="294.4,480 298.4,480 296.4,484" fill="#231f20"/>
<line x1="195" y1="493.4" x2="297.7" y2="493.4" stroke="#231f20" stroke-width="1.1"/>
<line x1="300.3" y1="493.4" x2="305.4" y2="493.4" stroke="#231f20" stroke-width="1.1"/>
<polygon points="304.9,490.6 304.9,496.2 309.9,493.4" fill="#231f20"/>
<line x1="203.8" y1="490.9" x2="203.8" y2="496.5" stroke="#231f20" stroke-width="1.0"/>
<line x1="297" y1="490.7" x2="297" y2="496.4" stroke="#231f20" stroke-width="1.0"/>
<text x="317.5" y="372.6" textLength="2" lengthAdjust="spacingAndGlyphs" font-size="10.4" font-weight="bold" fill="#000" style="stroke:#000;stroke-width:0.45px;fill:#000">I</text>
<line x1="369.3" y1="381.2" x2="369.3" y2="468.8" stroke="#231f20" stroke-width="1.35"/>
<line x1="366.1" y1="386" x2="369.3" y2="386" stroke="#231f20" stroke-width="1.2"/>
<line x1="366.1" y1="406.55" x2="369.3" y2="406.55" stroke="#231f20" stroke-width="1.2"/>
<line x1="366.1" y1="427.1" x2="369.3" y2="427.1" stroke="#231f20" stroke-width="1.2"/>
<line x1="366.1" y1="447.65" x2="369.3" y2="447.65" stroke="#231f20" stroke-width="1.2"/>
<line x1="366.1" y1="468.2" x2="369.3" y2="468.2" stroke="#231f20" stroke-width="1.2"/>
<line x1="367.5" y1="400.36" x2="369.3" y2="400.36" stroke="#231f20" stroke-width="0.7"/>
<line x1="367.5" y1="396.75" x2="369.3" y2="396.75" stroke="#231f20" stroke-width="0.7"/>
<line x1="367.5" y1="394.18" x2="369.3" y2="394.18" stroke="#231f20" stroke-width="0.7"/>
<line x1="367.5" y1="392.19" x2="369.3" y2="392.19" stroke="#231f20" stroke-width="0.7"/>
<line x1="367.5" y1="390.56" x2="369.3" y2="390.56" stroke="#231f20" stroke-width="0.7"/>
<line x1="367.5" y1="389.18" x2="369.3" y2="389.18" stroke="#231f20" stroke-width="0.7"/>
<line x1="367.5" y1="387.99" x2="369.3" y2="387.99" stroke="#231f20" stroke-width="0.7"/>
<line x1="367.5" y1="386.94" x2="369.3" y2="386.94" stroke="#231f20" stroke-width="0.7"/>
<line x1="367.5" y1="420.91" x2="369.3" y2="420.91" stroke="#231f20" stroke-width="0.7"/>
<line x1="367.5" y1="417.3" x2="369.3" y2="417.3" stroke="#231f20" stroke-width="0.7"/>
<line x1="367.5" y1="414.73" x2="369.3" y2="414.73" stroke="#231f20" stroke-width="0.7"/>
<line x1="367.5" y1="412.74" x2="369.3" y2="412.74" stroke="#231f20" stroke-width="0.7"/>
<line x1="367.5" y1="411.11" x2="369.3" y2="411.11" stroke="#231f20" stroke-width="0.7"/>
<line x1="367.5" y1="409.73" x2="369.3" y2="409.73" stroke="#231f20" stroke-width="0.7"/>
<line x1="367.5" y1="408.54" x2="369.3" y2="408.54" stroke="#231f20" stroke-width="0.7"/>
<line x1="367.5" y1="407.49" x2="369.3" y2="407.49" stroke="#231f20" stroke-width="0.7"/>
<line x1="367.5" y1="441.46" x2="369.3" y2="441.46" stroke="#231f20" stroke-width="0.7"/>
<line x1="367.5" y1="437.85" x2="369.3" y2="437.85" stroke="#231f20" stroke-width="0.7"/>
<line x1="367.5" y1="435.28" x2="369.3" y2="435.28" stroke="#231f20" stroke-width="0.7"/>
<line x1="367.5" y1="433.29" x2="369.3" y2="433.29" stroke="#231f20" stroke-width="0.7"/>
<line x1="367.5" y1="431.66" x2="369.3" y2="431.66" stroke="#231f20" stroke-width="0.7"/>
<line x1="367.5" y1="430.28" x2="369.3" y2="430.28" stroke="#231f20" stroke-width="0.7"/>
<line x1="367.5" y1="429.09" x2="369.3" y2="429.09" stroke="#231f20" stroke-width="0.7"/>
<line x1="367.5" y1="428.04" x2="369.3" y2="428.04" stroke="#231f20" stroke-width="0.7"/>
<line x1="367.5" y1="462.01" x2="369.3" y2="462.01" stroke="#231f20" stroke-width="0.7"/>
<line x1="367.5" y1="458.4" x2="369.3" y2="458.4" stroke="#231f20" stroke-width="0.7"/>
<line x1="367.5" y1="455.83" x2="369.3" y2="455.83" stroke="#231f20" stroke-width="0.7"/>
<line x1="367.5" y1="453.84" x2="369.3" y2="453.84" stroke="#231f20" stroke-width="0.7"/>
<line x1="367.5" y1="452.21" x2="369.3" y2="452.21" stroke="#231f20" stroke-width="0.7"/>
<line x1="367.5" y1="450.83" x2="369.3" y2="450.83" stroke="#231f20" stroke-width="0.7"/>
<line x1="367.5" y1="449.64" x2="369.3" y2="449.64" stroke="#231f20" stroke-width="0.7"/>
<line x1="367.5" y1="448.59" x2="369.3" y2="448.59" stroke="#231f20" stroke-width="0.7"/>
<text x="359.6" y="386.1" textLength="2.9" lengthAdjust="spacingAndGlyphs" font-size="4.8">2</text>
<text x="353.2" y="388.8" textLength="6.3" lengthAdjust="spacingAndGlyphs" font-size="6.9">10</text>
<text x="359.6" y="406.65" textLength="2.9" lengthAdjust="spacingAndGlyphs" font-size="4.8">1</text>
<text x="353.2" y="409.35" textLength="6.3" lengthAdjust="spacingAndGlyphs" font-size="6.9">10</text>
<text x="359.6" y="427.2" textLength="2.9" lengthAdjust="spacingAndGlyphs" font-size="4.8">0</text>
<text x="353.2" y="429.9" textLength="6.3" lengthAdjust="spacingAndGlyphs" font-size="6.9">10</text>
<text x="356.3" y="447.75" textLength="6.2" lengthAdjust="spacingAndGlyphs" font-size="4.8">−1</text>
<text x="349.9" y="450.45" textLength="6.3" lengthAdjust="spacingAndGlyphs" font-size="6.9">10</text>
<text x="356.3" y="468.3" textLength="6.2" lengthAdjust="spacingAndGlyphs" font-size="4.8">−2</text>
<text x="349.9" y="471" textLength="6.3" lengthAdjust="spacingAndGlyphs" font-size="6.9">10</text>
<line x1="368.62" y1="468.3" x2="514" y2="468.3" stroke="#231f20" stroke-width="1.35"/>
<line x1="381.5" y1="468.3" x2="381.5" y2="471.3" stroke="#231f20" stroke-width="1.35"/>
<line x1="406.5" y1="468.3" x2="406.5" y2="471.3" stroke="#231f20" stroke-width="1.35"/>
<line x1="431.6" y1="468.3" x2="431.6" y2="471.3" stroke="#231f20" stroke-width="1.35"/>
<line x1="456.5" y1="468.3" x2="456.5" y2="471.3" stroke="#231f20" stroke-width="1.35"/>
<line x1="481.9" y1="468.3" x2="481.9" y2="471.3" stroke="#231f20" stroke-width="1.35"/>
<line x1="506.6" y1="468.3" x2="506.6" y2="471.3" stroke="#231f20" stroke-width="1.35"/>
<text transform="translate(331.8,425.1) rotate(-90)" x="-31.8" y="0" textLength="63.6" lengthAdjust="spacingAndGlyphs" font-size="8.8" style="stroke-width:0.22px">Frequency of T cells</text>
<text transform="translate(341.4,424) rotate(-90)" x="-43.9" y="0" textLength="87.8" lengthAdjust="spacingAndGlyphs" font-size="8.8" style="stroke-width:0.22px">in the peripheral blood (%)</text>
<line x1="419" y1="385.1" x2="419" y2="468" stroke="#231f20" stroke-width="1.2" stroke-dasharray="2.1 1.5"/>
<line x1="469.1" y1="385.1" x2="469.1" y2="468" stroke="#231f20" stroke-width="1.2" stroke-dasharray="2.1 1.5"/>
<line x1="373.3" y1="432.3" x2="389.8" y2="432.3" stroke="#231f20" stroke-width="1.2"/>
<line x1="398.5" y1="403.2" x2="414.8" y2="403.2" stroke="#231f20" stroke-width="1.2"/>
<line x1="423.5" y1="433" x2="439.8" y2="433" stroke="#231f20" stroke-width="1.2"/>
<line x1="448.3" y1="428.1" x2="464.5" y2="428.1" stroke="#231f20" stroke-width="1.2"/>
<line x1="473.6" y1="431.1" x2="489.7" y2="431.1" stroke="#231f20" stroke-width="1.2"/>
<line x1="498.4" y1="405.3" x2="515" y2="405.3" stroke="#231f20" stroke-width="1.2"/>
<line x1="381.5" y1="388.1" x2="404.6" y2="388.1" stroke="#5a5a5a" stroke-width="1.1"/>
<line x1="381.5" y1="386.5" x2="381.5" y2="389.7" stroke="#5a5a5a" stroke-width="0.9900000000000001"/>
<line x1="404.6" y1="386.5" x2="404.6" y2="389.7" stroke="#5a5a5a" stroke-width="0.9900000000000001"/>
<text x="380.9" y="381.8" textLength="23.2" lengthAdjust="spacingAndGlyphs" font-size="7.2">P&lt;0.01</text>
<line x1="432.8" y1="410.3" x2="455.4" y2="410.3" stroke="#5a5a5a" stroke-width="1.1"/>
<line x1="432.8" y1="408.7" x2="432.8" y2="411.9" stroke="#5a5a5a" stroke-width="0.9900000000000001"/>
<line x1="455.4" y1="408.7" x2="455.4" y2="411.9" stroke="#5a5a5a" stroke-width="0.9900000000000001"/>
<text x="432.8" y="403.9" textLength="22.6" lengthAdjust="spacingAndGlyphs" font-size="7.2">P&lt;0.01</text>
<text transform="translate(386.1,476.8) rotate(-45)" x="-34.5" y="0" textLength="34.5" lengthAdjust="spacingAndGlyphs" font-size="8.2">No target</text>
<text transform="translate(411.3,476.8) rotate(-45)" x="-40.5" y="0" textLength="40.5" lengthAdjust="spacingAndGlyphs" font-size="8.2" font-style="italic">PRDM1 KO</text>
<text transform="translate(436.2,476.8) rotate(-45)" x="-34.5" y="0" textLength="34.5" lengthAdjust="spacingAndGlyphs" font-size="8.2">No target</text>
<text transform="translate(461.3,476.8) rotate(-45)" x="-40.5" y="0" textLength="40.5" lengthAdjust="spacingAndGlyphs" font-size="8.2" font-style="italic">PRDM1 KO</text>
<text transform="translate(486.5,476.8) rotate(-45)" x="-34.5" y="0" textLength="34.5" lengthAdjust="spacingAndGlyphs" font-size="8.2">No target</text>
<text transform="translate(511.4,476.8) rotate(-45)" x="-40.5" y="0" textLength="40.5" lengthAdjust="spacingAndGlyphs" font-size="8.2" font-style="italic">PRDM1 KO</text>
<line x1="378.7" y1="509.4" x2="414.3" y2="509.4" stroke="#231f20" stroke-width="1.3"/>
<text x="396.5" y="519.7" font-size="8.4" text-anchor="middle">2</text>
<line x1="428.4" y1="509.4" x2="464.2" y2="509.4" stroke="#231f20" stroke-width="1.3"/>
<text x="446.3" y="519.7" font-size="8.4" text-anchor="middle">4</text>
<line x1="475.7" y1="509.4" x2="511.2" y2="509.4" stroke="#231f20" stroke-width="1.3"/>
<text x="493.45" y="519.7" font-size="8.4" text-anchor="middle">7</text>
<text x="326.7" y="516.8" textLength="44.8" lengthAdjust="spacingAndGlyphs" font-size="8.4">Weeks after</text>
<text x="320.8" y="526.9" textLength="50.8" lengthAdjust="spacingAndGlyphs" font-size="8.4">T cell infusion</text>
<text x="7.3" y="547.7" textLength="4.5" lengthAdjust="spacingAndGlyphs" font-size="10.4" font-weight="bold" fill="#000" style="stroke:#000;stroke-width:0.45px;fill:#000">J</text>
<line x1="57.6" y1="553" x2="57.6" y2="643.4" stroke="#231f20" stroke-width="1.4"/>
<line x1="54.4" y1="642.8" x2="57.6" y2="642.8" stroke="#231f20" stroke-width="1.2"/>
<line x1="55.7" y1="638.48" x2="57.6" y2="638.48" stroke="#231f20" stroke-width="0.9"/>
<line x1="55.7" y1="635.95" x2="57.6" y2="635.95" stroke="#231f20" stroke-width="0.9"/>
<line x1="55.7" y1="634.16" x2="57.6" y2="634.16" stroke="#231f20" stroke-width="0.9"/>
<line x1="55.7" y1="632.77" x2="57.6" y2="632.77" stroke="#231f20" stroke-width="0.9"/>
<line x1="55.7" y1="631.63" x2="57.6" y2="631.63" stroke="#231f20" stroke-width="0.9"/>
<line x1="55.7" y1="630.67" x2="57.6" y2="630.67" stroke="#231f20" stroke-width="0.9"/>
<line x1="55.7" y1="629.84" x2="57.6" y2="629.84" stroke="#231f20" stroke-width="0.9"/>
<line x1="55.7" y1="629.11" x2="57.6" y2="629.11" stroke="#231f20" stroke-width="0.9"/>
<line x1="54.4" y1="628.45" x2="57.6" y2="628.45" stroke="#231f20" stroke-width="1.2"/>
<line x1="55.7" y1="624.13" x2="57.6" y2="624.13" stroke="#231f20" stroke-width="0.9"/>
<line x1="55.7" y1="621.6" x2="57.6" y2="621.6" stroke="#231f20" stroke-width="0.9"/>
<line x1="55.7" y1="619.81" x2="57.6" y2="619.81" stroke="#231f20" stroke-width="0.9"/>
<line x1="55.7" y1="618.42" x2="57.6" y2="618.42" stroke="#231f20" stroke-width="0.9"/>
<line x1="55.7" y1="617.28" x2="57.6" y2="617.28" stroke="#231f20" stroke-width="0.9"/>
<line x1="55.7" y1="616.32" x2="57.6" y2="616.32" stroke="#231f20" stroke-width="0.9"/>
<line x1="55.7" y1="615.49" x2="57.6" y2="615.49" stroke="#231f20" stroke-width="0.9"/>
<line x1="55.7" y1="614.76" x2="57.6" y2="614.76" stroke="#231f20" stroke-width="0.9"/>
<line x1="54.4" y1="614.1" x2="57.6" y2="614.1" stroke="#231f20" stroke-width="1.2"/>
<line x1="55.7" y1="609.78" x2="57.6" y2="609.78" stroke="#231f20" stroke-width="0.9"/>
<line x1="55.7" y1="607.25" x2="57.6" y2="607.25" stroke="#231f20" stroke-width="0.9"/>
<line x1="55.7" y1="605.46" x2="57.6" y2="605.46" stroke="#231f20" stroke-width="0.9"/>
<line x1="55.7" y1="604.07" x2="57.6" y2="604.07" stroke="#231f20" stroke-width="0.9"/>
<line x1="55.7" y1="602.93" x2="57.6" y2="602.93" stroke="#231f20" stroke-width="0.9"/>
<line x1="55.7" y1="601.97" x2="57.6" y2="601.97" stroke="#231f20" stroke-width="0.9"/>
<line x1="55.7" y1="601.14" x2="57.6" y2="601.14" stroke="#231f20" stroke-width="0.9"/>
<line x1="55.7" y1="600.41" x2="57.6" y2="600.41" stroke="#231f20" stroke-width="0.9"/>
<line x1="54.4" y1="599.75" x2="57.6" y2="599.75" stroke="#231f20" stroke-width="1.2"/>
<line x1="55.7" y1="595.43" x2="57.6" y2="595.43" stroke="#231f20" stroke-width="0.9"/>
<line x1="55.7" y1="592.9" x2="57.6" y2="592.9" stroke="#231f20" stroke-width="0.9"/>
<line x1="55.7" y1="591.11" x2="57.6" y2="591.11" stroke="#231f20" stroke-width="0.9"/>
<line x1="55.7" y1="589.72" x2="57.6" y2="589.72" stroke="#231f20" stroke-width="0.9"/>
<line x1="55.7" y1="588.58" x2="57.6" y2="588.58" stroke="#231f20" stroke-width="0.9"/>
<line x1="55.7" y1="587.62" x2="57.6" y2="587.62" stroke="#231f20" stroke-width="0.9"/>
<line x1="55.7" y1="586.79" x2="57.6" y2="586.79" stroke="#231f20" stroke-width="0.9"/>
<line x1="55.7" y1="586.06" x2="57.6" y2="586.06" stroke="#231f20" stroke-width="0.9"/>
<line x1="54.4" y1="585.4" x2="57.6" y2="585.4" stroke="#231f20" stroke-width="1.2"/>
<line x1="55.7" y1="581.08" x2="57.6" y2="581.08" stroke="#231f20" stroke-width="0.9"/>
<line x1="55.7" y1="578.55" x2="57.6" y2="578.55" stroke="#231f20" stroke-width="0.9"/>
<line x1="55.7" y1="576.76" x2="57.6" y2="576.76" stroke="#231f20" stroke-width="0.9"/>
<line x1="55.7" y1="575.37" x2="57.6" y2="575.37" stroke="#231f20" stroke-width="0.9"/>
<line x1="55.7" y1="574.23" x2="57.6" y2="574.23" stroke="#231f20" stroke-width="0.9"/>
<line x1="55.7" y1="573.27" x2="57.6" y2="573.27" stroke="#231f20" stroke-width="0.9"/>
<line x1="55.7" y1="572.44" x2="57.6" y2="572.44" stroke="#231f20" stroke-width="0.9"/>
<line x1="55.7" y1="571.71" x2="57.6" y2="571.71" stroke="#231f20" stroke-width="0.9"/>
<line x1="54.4" y1="571.05" x2="57.6" y2="571.05" stroke="#231f20" stroke-width="1.2"/>
<line x1="55.7" y1="566.73" x2="57.6" y2="566.73" stroke="#231f20" stroke-width="0.9"/>
<line x1="55.7" y1="564.2" x2="57.6" y2="564.2" stroke="#231f20" stroke-width="0.9"/>
<line x1="55.7" y1="562.41" x2="57.6" y2="562.41" stroke="#231f20" stroke-width="0.9"/>
<line x1="55.7" y1="561.02" x2="57.6" y2="561.02" stroke="#231f20" stroke-width="0.9"/>
<line x1="55.7" y1="559.88" x2="57.6" y2="559.88" stroke="#231f20" stroke-width="0.9"/>
<line x1="55.7" y1="558.92" x2="57.6" y2="558.92" stroke="#231f20" stroke-width="0.9"/>
<line x1="55.7" y1="558.09" x2="57.6" y2="558.09" stroke="#231f20" stroke-width="0.9"/>
<line x1="55.7" y1="557.36" x2="57.6" y2="557.36" stroke="#231f20" stroke-width="0.9"/>
<line x1="54.4" y1="556.7" x2="57.6" y2="556.7" stroke="#231f20" stroke-width="1.2"/>
<text x="49.7" y="642.9" textLength="2.8" lengthAdjust="spacingAndGlyphs" font-size="4.8">6</text>
<text x="40.9" y="645.9" textLength="7.9" lengthAdjust="spacingAndGlyphs" font-size="8.2">10</text>
<text x="49.7" y="628.55" textLength="2.8" lengthAdjust="spacingAndGlyphs" font-size="4.8">7</text>
<text x="40.9" y="631.55" textLength="7.9" lengthAdjust="spacingAndGlyphs" font-size="8.2">10</text>
<text x="49.7" y="614.2" textLength="2.8" lengthAdjust="spacingAndGlyphs" font-size="4.8">8</text>
<text x="40.9" y="617.2" textLength="7.9" lengthAdjust="spacingAndGlyphs" font-size="8.2">10</text>
<text x="49.7" y="599.85" textLength="2.8" lengthAdjust="spacingAndGlyphs" font-size="4.8">9</text>
<text x="40.9" y="602.85" textLength="7.9" lengthAdjust="spacingAndGlyphs" font-size="8.2">10</text>
<text x="47.1" y="585.5" textLength="5.4" lengthAdjust="spacingAndGlyphs" font-size="4.8">10</text>
<text x="38.3" y="588.5" textLength="7.9" lengthAdjust="spacingAndGlyphs" font-size="8.2">10</text>
<text x="47.1" y="571.15" textLength="5.4" lengthAdjust="spacingAndGlyphs" font-size="4.8">11</text>
<text x="38.3" y="574.15" textLength="7.9" lengthAdjust="spacingAndGlyphs" font-size="8.2">10</text>
<text x="47.1" y="556.8" textLength="5.4" lengthAdjust="spacingAndGlyphs" font-size="4.8">12</text>
<text x="38.3" y="559.8" textLength="7.9" lengthAdjust="spacingAndGlyphs" font-size="8.2">10</text>
<line x1="56.93" y1="642.8" x2="246.7" y2="642.8" stroke="#231f20" stroke-width="1.35"/>
<line x1="74.2" y1="642.8" x2="74.2" y2="645.8" stroke="#231f20" stroke-width="1.35"/>
<line x1="106.3" y1="642.8" x2="106.3" y2="645.8" stroke="#231f20" stroke-width="1.35"/>
<line x1="138.7" y1="642.8" x2="138.7" y2="645.8" stroke="#231f20" stroke-width="1.35"/>
<line x1="171" y1="642.8" x2="171" y2="645.8" stroke="#231f20" stroke-width="1.35"/>
<line x1="203.3" y1="642.8" x2="203.3" y2="645.8" stroke="#231f20" stroke-width="1.35"/>
<line x1="235.4" y1="642.8" x2="235.4" y2="645.8" stroke="#231f20" stroke-width="1.35"/>
<text transform="translate(34.7,597.9) rotate(-90)" x="-14.7" y="0" textLength="29.4" lengthAdjust="spacingAndGlyphs" font-size="9.5" style="stroke-width:0.22px">Total flux</text>
<line x1="122.6" y1="556.7" x2="122.6" y2="642.2" stroke="#231f20" stroke-width="1.2" stroke-dasharray="2.1 1.5"/>
<line x1="187.3" y1="556.7" x2="187.3" y2="642.2" stroke="#231f20" stroke-width="1.2" stroke-dasharray="2.1 1.5"/>
<line x1="63.5" y1="586.2" x2="84.8" y2="586.2" stroke="#231f20" stroke-width="1.2"/>
<line x1="95.8" y1="587.5" x2="116.9" y2="587.5" stroke="#231f20" stroke-width="1.2"/>
<line x1="128.7" y1="605.2" x2="149.4" y2="605.2" stroke="#231f20" stroke-width="1.2"/>
<line x1="160.4" y1="616.3" x2="181.5" y2="616.3" stroke="#231f20" stroke-width="1.2"/>
<line x1="192.5" y1="574.4" x2="214.2" y2="574.4" stroke="#231f20" stroke-width="1.2"/>
<line x1="224.8" y1="580.2" x2="246.3" y2="580.2" stroke="#231f20" stroke-width="1.2"/>
<line x1="137.7" y1="586.5" x2="171.5" y2="586.5" stroke="#5a5a5a" stroke-width="1.1"/>
<line x1="137.7" y1="584.9" x2="137.7" y2="588.1" stroke="#5a5a5a" stroke-width="0.9900000000000001"/>
<line x1="171.5" y1="584.9" x2="171.5" y2="588.1" stroke="#5a5a5a" stroke-width="0.9900000000000001"/>
<text x="142.75" y="581.2" textLength="23.5" lengthAdjust="spacingAndGlyphs" font-size="7.2">P&lt;0.01</text>
<text transform="translate(78.4,650.9) rotate(-45)" x="-34.5" y="0" textLength="34.5" lengthAdjust="spacingAndGlyphs" font-size="8.2">No target</text>
<text transform="translate(111.1,650.9) rotate(-45)" x="-40.5" y="0" textLength="40.5" lengthAdjust="spacingAndGlyphs" font-size="8.2" font-style="italic">PRDM1 KO</text>
<text transform="translate(142.9,650.9) rotate(-45)" x="-34.5" y="0" textLength="34.5" lengthAdjust="spacingAndGlyphs" font-size="8.2">No target</text>
<text transform="translate(175.8,650.9) rotate(-45)" x="-40.5" y="0" textLength="40.5" lengthAdjust="spacingAndGlyphs" font-size="8.2" font-style="italic">PRDM1 KO</text>
<text transform="translate(207.5,650.9) rotate(-45)" x="-34.5" y="0" textLength="34.5" lengthAdjust="spacingAndGlyphs" font-size="8.2">No target</text>
<text transform="translate(240.2,650.9) rotate(-45)" x="-40.5" y="0" textLength="40.5" lengthAdjust="spacingAndGlyphs" font-size="8.2" font-style="italic">PRDM1 KO</text>
<line x1="76.3" y1="683.9" x2="121.6" y2="683.9" stroke="#5a5a5a" stroke-width="1.3"/>
<text x="98.95" y="694.8" font-size="8.4" text-anchor="middle">3</text>
<line x1="141.2" y1="683.9" x2="186.4" y2="683.9" stroke="#5a5a5a" stroke-width="1.3"/>
<text x="163.8" y="694.8" font-size="8.4" text-anchor="middle">5</text>
<line x1="205.2" y1="683.9" x2="250.5" y2="683.9" stroke="#5a5a5a" stroke-width="1.3"/>
<text x="227.85" y="694.8" font-size="8.4" text-anchor="middle">8</text>
<text x="22.5" y="691.3" textLength="45" lengthAdjust="spacingAndGlyphs" font-size="8.4">Weeks after</text>
<text x="7" y="701.3" textLength="60.5" lengthAdjust="spacingAndGlyphs" font-size="8.4">NALM6 infusion</text>
<text x="288.5" y="547.7" textLength="6.8" lengthAdjust="spacingAndGlyphs" font-size="10.4" font-weight="bold" fill="#000" style="stroke:#000;stroke-width:0.45px;fill:#000">K</text>
<line x1="323.8" y1="570.8" x2="323.8" y2="678.07" stroke="#231f20" stroke-width="1.35"/>
<line x1="320.6" y1="677.4" x2="323.8" y2="677.4" stroke="#231f20" stroke-width="1.35"/>
<text x="313.65" y="680.7" textLength="4.15" lengthAdjust="spacingAndGlyphs" font-size="8.4">0</text>
<line x1="320.6" y1="652.11" x2="323.8" y2="652.11" stroke="#231f20" stroke-width="1.35"/>
<text x="309.5" y="655.41" textLength="8.3" lengthAdjust="spacingAndGlyphs" font-size="8.4">25</text>
<line x1="320.6" y1="626.82" x2="323.8" y2="626.82" stroke="#231f20" stroke-width="1.35"/>
<text x="309.5" y="630.12" textLength="8.3" lengthAdjust="spacingAndGlyphs" font-size="8.4">50</text>
<line x1="320.6" y1="601.54" x2="323.8" y2="601.54" stroke="#231f20" stroke-width="1.35"/>
<text x="309.5" y="604.84" textLength="8.3" lengthAdjust="spacingAndGlyphs" font-size="8.4">75</text>
<line x1="320.6" y1="576.25" x2="323.8" y2="576.25" stroke="#231f20" stroke-width="1.35"/>
<text x="305.35" y="579.55" textLength="12.45" lengthAdjust="spacingAndGlyphs" font-size="8.4">100</text>
<line x1="323.12" y1="677.4" x2="463.4" y2="677.4" stroke="#231f20" stroke-width="1.35"/>
<line x1="323.8" y1="677.4" x2="323.8" y2="680.4" stroke="#231f20" stroke-width="1.35"/>
<line x1="350.36" y1="677.4" x2="350.36" y2="680.4" stroke="#231f20" stroke-width="1.35"/>
<line x1="376.92" y1="677.4" x2="376.92" y2="680.4" stroke="#231f20" stroke-width="1.35"/>
<line x1="403.48" y1="677.4" x2="403.48" y2="680.4" stroke="#231f20" stroke-width="1.35"/>
<line x1="430.04" y1="677.4" x2="430.04" y2="680.4" stroke="#231f20" stroke-width="1.35"/>
<line x1="456.6" y1="677.4" x2="456.6" y2="680.4" stroke="#231f20" stroke-width="1.35"/>
<text x="323.8" y="689.4" font-size="8.2" text-anchor="middle">0</text>
<text x="350.36" y="689.4" font-size="8.2" text-anchor="middle">2</text>
<text x="376.92" y="689.4" font-size="8.2" text-anchor="middle">4</text>
<text x="403.48" y="689.4" font-size="8.2" text-anchor="middle">6</text>
<text x="430.04" y="689.4" font-size="8.2" text-anchor="middle">8</text>
<text x="456.6" y="689.4" font-size="8.2" text-anchor="middle">10</text>
<text x="350.6" y="701.8" textLength="84.6" lengthAdjust="spacingAndGlyphs" font-size="9.5">Weeks after T cell infusion</text>
<text transform="translate(302,623.9) rotate(-90)" x="-42.3" y="0" textLength="84.6" lengthAdjust="spacingAndGlyphs" font-size="8.5" style="stroke-width:0.22px">Leukemia-related survival</text>
<path d="M342.7,575.9 H409.2 V590.3 H439.9 V611.8 H443.7" stroke="#1b4f86" stroke-width="1.5" fill="none"/>
<path d="M323.8,575.9 H342.7 V596.4 H359.5 V616.5 H415.2 V626.6 H418.8 V646.7 H420.4 V656.9 H443.7" stroke="#c8102e" stroke-width="1.5" fill="none"/>
<line x1="400.1" y1="574" x2="400.1" y2="576.2" stroke="#231f20" stroke-width="1.0"/>
<line x1="403.5" y1="574" x2="403.5" y2="576.2" stroke="#231f20" stroke-width="1.0"/>
<line x1="417.3" y1="588.4" x2="417.3" y2="590.6" stroke="#231f20" stroke-width="1.0"/>
<line x1="435.7" y1="588.4" x2="435.7" y2="590.6" stroke="#231f20" stroke-width="1.0"/>
<line x1="443.5" y1="609.9" x2="443.5" y2="612.1" stroke="#231f20" stroke-width="1.0"/>
<line x1="443.5" y1="655" x2="443.5" y2="657.2" stroke="#231f20" stroke-width="1.0"/>
<text x="372.8" y="569.5" textLength="28" lengthAdjust="spacingAndGlyphs" font-size="7.4">P=0.024</text>
<line x1="327.8" y1="652.2" x2="351.9" y2="652.2" stroke="#c8102e" stroke-width="1.5"/>
<line x1="339.7" y1="650.4" x2="339.7" y2="652.3" stroke="#231f20" stroke-width="1.0"/>
<text x="355.3" y="655.4" textLength="33.1" lengthAdjust="spacingAndGlyphs" font-size="8.2">No target</text>
<line x1="327.8" y1="665.6" x2="351.9" y2="665.6" stroke="#1b4f86" stroke-width="1.5"/>
<line x1="339.7" y1="663.9" x2="339.7" y2="665.8" stroke="#231f20" stroke-width="1.0"/>
<text x="355.3" y="668.8" textLength="38.6" lengthAdjust="spacingAndGlyphs" font-size="8.2">PRDM1 KO</text>
<circle cx="213.5" cy="81.5" r="1.78" fill="#c8102e"/>
<circle cx="219.8" cy="80.2" r="1.78" fill="#c8102e"/>
<circle cx="219.8" cy="84.1" r="1.78" fill="#c8102e"/>
<circle cx="213.5" cy="87.1" r="1.78" fill="#c8102e"/>
<circle cx="219.8" cy="87.7" r="1.78" fill="#c8102e"/>
<circle cx="223.1" cy="86.8" r="1.78" fill="#c8102e"/>
<circle cx="216.8" cy="90.4" r="1.78" fill="#c8102e"/>
<circle cx="237.3" cy="79" r="1.78" fill="#c8102e"/>
<circle cx="234.6" cy="85.4" r="1.78" fill="#c8102e"/>
<circle cx="232.5" cy="87.7" r="1.78" fill="#c8102e"/>
<circle cx="236.5" cy="87.3" r="1.78" fill="#c8102e"/>
<circle cx="238.5" cy="86.2" r="1.78" fill="#c8102e"/>
<circle cx="240.4" cy="88.1" r="1.78" fill="#c8102e"/>
<circle cx="242.3" cy="87.1" r="1.78" fill="#c8102e"/>
<circle cx="255.1" cy="86.9" r="1.78" fill="#c8102e"/>
<circle cx="255.4" cy="90.2" r="1.78" fill="#c8102e"/>
<circle cx="259.2" cy="89.5" r="1.78" fill="#c8102e"/>
<circle cx="261.5" cy="89.6" r="1.78" fill="#c8102e"/>
<circle cx="263.8" cy="90" r="1.78" fill="#c8102e"/>
<circle cx="278.9" cy="58.5" r="1.78" fill="#c8102e"/>
<circle cx="278.9" cy="77.7" r="1.78" fill="#c8102e"/>
<circle cx="276.6" cy="86.6" r="1.78" fill="#c8102e"/>
<circle cx="274.2" cy="90" r="1.78" fill="#c8102e"/>
<circle cx="279.2" cy="89.7" r="1.78" fill="#c8102e"/>
<circle cx="281.5" cy="90" r="1.78" fill="#c8102e"/>
<circle cx="283.8" cy="90" r="1.78" fill="#c8102e"/>
<circle cx="301.2" cy="80.5" r="1.78" fill="#c8102e"/>
<circle cx="303.8" cy="86.9" r="1.78" fill="#c8102e"/>
<circle cx="296.6" cy="90.3" r="1.78" fill="#c8102e"/>
<circle cx="300.8" cy="90" r="1.78" fill="#c8102e"/>
<circle cx="306.2" cy="90.5" r="1.78" fill="#c8102e"/>
<circle cx="315.7" cy="61.5" r="1.78" fill="#c8102e"/>
<circle cx="325.4" cy="63.8" r="1.78" fill="#c8102e"/>
<circle cx="320.5" cy="71.2" r="1.78" fill="#c8102e"/>
<circle cx="320.5" cy="77.4" r="1.78" fill="#c8102e"/>
<circle cx="315.8" cy="81.2" r="1.78" fill="#c8102e"/>
<circle cx="325.4" cy="83.8" r="1.78" fill="#c8102e"/>
<circle cx="320.5" cy="89.5" r="1.78" fill="#c8102e"/>
<circle cx="343.1" cy="81.5" r="1.78" fill="#c8102e"/>
<circle cx="337.7" cy="90.3" r="1.78" fill="#c8102e"/>
<circle cx="340" cy="89.2" r="1.78" fill="#c8102e"/>
<circle cx="343.1" cy="89.2" r="1.78" fill="#c8102e"/>
<circle cx="346.2" cy="89.2" r="1.78" fill="#c8102e"/>
<circle cx="348" cy="87.2" r="1.78" fill="#c8102e"/>
<circle cx="347.7" cy="90.5" r="1.78" fill="#c8102e"/>
<circle cx="362" cy="36.9" r="1.78" fill="#c8102e"/>
<circle cx="362" cy="43.5" r="1.78" fill="#c8102e"/>
<circle cx="362" cy="55.8" r="1.78" fill="#c8102e"/>
<circle cx="357.2" cy="78.9" r="1.78" fill="#c8102e"/>
<circle cx="366.6" cy="78.9" r="1.78" fill="#c8102e"/>
<circle cx="362" cy="88.2" r="1.78" fill="#c8102e"/>
<circle cx="74.4" cy="207.7" r="1.7" fill="#c8102e"/>
<circle cx="74.4" cy="214.4" r="1.7" fill="#c8102e"/>
<circle cx="107.9" cy="191" r="1.7" fill="#c8102e"/>
<circle cx="107.9" cy="192.6" r="1.7" fill="#c8102e"/>
<circle cx="107.9" cy="194.2" r="1.7" fill="#c8102e"/>
<circle cx="107.9" cy="195.7" r="1.7" fill="#c8102e"/>
<circle cx="107.9" cy="197.2" r="1.7" fill="#c8102e"/>
<circle cx="107.9" cy="198.2" r="1.7" fill="#c8102e"/>
<circle cx="107.9" cy="203.9" r="1.7" fill="#c8102e"/>
<circle cx="183.8" cy="254.1" r="1.78" fill="#c8102e"/>
<circle cx="188.2" cy="252.4" r="1.78" fill="#c8102e"/>
<circle cx="192.5" cy="254.1" r="1.78" fill="#c8102e"/>
<circle cx="202.9" cy="252.9" r="1.78" fill="#c8102e"/>
<circle cx="206.7" cy="252" r="1.78" fill="#c8102e"/>
<circle cx="211" cy="252.4" r="1.78" fill="#c8102e"/>
<circle cx="221" cy="247.7" r="1.78" fill="#c8102e"/>
<circle cx="221" cy="252.9" r="1.78" fill="#c8102e"/>
<circle cx="229.4" cy="249.8" r="1.78" fill="#c8102e"/>
<circle cx="239.2" cy="251.5" r="1.78" fill="#c8102e"/>
<circle cx="243.6" cy="248.2" r="1.78" fill="#c8102e"/>
<circle cx="247.9" cy="251.2" r="1.78" fill="#c8102e"/>
<circle cx="258.1" cy="212.7" r="1.78" fill="#c8102e"/>
<circle cx="266.4" cy="216.4" r="1.78" fill="#c8102e"/>
<circle cx="262.1" cy="223.7" r="1.78" fill="#c8102e"/>
<circle cx="276.3" cy="202.9" r="1.78" fill="#c8102e"/>
<circle cx="280.6" cy="201.5" r="1.78" fill="#c8102e"/>
<circle cx="284.6" cy="201.7" r="1.78" fill="#c8102e"/>
<circle cx="295.3" cy="243" r="1.78" fill="#c8102e"/>
<circle cx="295.3" cy="248.4" r="1.78" fill="#c8102e"/>
<circle cx="302.8" cy="247.4" r="1.78" fill="#c8102e"/>
<circle cx="317.5" cy="222.3" r="1.78" fill="#c8102e"/>
<circle cx="317.5" cy="226.8" r="1.78" fill="#c8102e"/>
<circle cx="317.5" cy="236.1" r="1.78" fill="#c8102e"/>
<circle cx="405.3" cy="235.6" r="1.78" fill="#c8102e"/>
<circle cx="402.9" cy="241.7" r="1.78" fill="#c8102e"/>
<circle cx="407.1" cy="241.7" r="1.78" fill="#c8102e"/>
<circle cx="424" cy="198" r="1.78" fill="#c8102e"/>
<circle cx="424" cy="209" r="1.78" fill="#c8102e"/>
<circle cx="424" cy="220.6" r="1.78" fill="#c8102e"/>
<circle cx="437.8" cy="256" r="1.78" fill="#c8102e"/>
<circle cx="443" cy="255.1" r="1.78" fill="#c8102e"/>
<circle cx="447.8" cy="255.1" r="1.78" fill="#c8102e"/>
<circle cx="459.4" cy="250.6" r="1.78" fill="#c8102e"/>
<circle cx="459.4" cy="252.5" r="1.78" fill="#c8102e"/>
<circle cx="463.7" cy="252" r="1.78" fill="#c8102e"/>
<circle cx="475.3" cy="257.6" r="1.78" fill="#c8102e"/>
<circle cx="480.5" cy="257.2" r="1.78" fill="#c8102e"/>
<circle cx="485.4" cy="257.6" r="1.78" fill="#c8102e"/>
<circle cx="494.4" cy="256.3" r="1.78" fill="#c8102e"/>
<circle cx="499.2" cy="254.6" r="1.78" fill="#c8102e"/>
<circle cx="504.4" cy="255.8" r="1.78" fill="#c8102e"/>
<circle cx="65.5" cy="409.6" r="1.78" fill="#c8102e"/>
<circle cx="67.8" cy="407.8" r="1.78" fill="#c8102e"/>
<circle cx="70.1" cy="409.2" r="1.78" fill="#c8102e"/>
<circle cx="72.4" cy="408.5" r="1.78" fill="#c8102e"/>
<circle cx="73.8" cy="408" r="1.78" fill="#c8102e"/>
<circle cx="82.2" cy="399.6" r="1.78" fill="#c8102e"/>
<circle cx="89.6" cy="397.6" r="1.78" fill="#c8102e"/>
<circle cx="82.2" cy="405.5" r="1.78" fill="#c8102e"/>
<circle cx="89.6" cy="403" r="1.78" fill="#c8102e"/>
<circle cx="98.8" cy="444.2" r="1.78" fill="#c8102e"/>
<circle cx="101.2" cy="443.9" r="1.78" fill="#c8102e"/>
<circle cx="103.5" cy="443.9" r="1.78" fill="#c8102e"/>
<circle cx="105.8" cy="443.8" r="1.78" fill="#c8102e"/>
<circle cx="115.8" cy="443.5" r="1.78" fill="#c8102e"/>
<circle cx="118.1" cy="442.8" r="1.78" fill="#c8102e"/>
<circle cx="120.4" cy="442.8" r="1.78" fill="#c8102e"/>
<circle cx="122.7" cy="442.8" r="1.78" fill="#c8102e"/>
<circle cx="375.4" cy="429.2" r="1.78" fill="#c8102e"/>
<circle cx="381.7" cy="427.5" r="1.78" fill="#c8102e"/>
<circle cx="388.1" cy="430" r="1.78" fill="#c8102e"/>
<circle cx="375.4" cy="433.7" r="1.78" fill="#c8102e"/>
<circle cx="381.7" cy="432.9" r="1.78" fill="#c8102e"/>
<circle cx="388.1" cy="435.5" r="1.78" fill="#c8102e"/>
<circle cx="381.7" cy="439.2" r="1.78" fill="#c8102e"/>
<circle cx="381.7" cy="443.3" r="1.78" fill="#c8102e"/>
<circle cx="408.8" cy="395.4" r="1.78" fill="#c8102e"/>
<circle cx="404.6" cy="399.4" r="1.78" fill="#c8102e"/>
<circle cx="413.2" cy="399.4" r="1.78" fill="#c8102e"/>
<circle cx="408.8" cy="402.7" r="1.78" fill="#c8102e"/>
<circle cx="404.6" cy="404.4" r="1.78" fill="#c8102e"/>
<circle cx="400.4" cy="408.4" r="1.78" fill="#c8102e"/>
<circle cx="404.6" cy="409" r="1.78" fill="#c8102e"/>
<circle cx="408.8" cy="410.2" r="1.78" fill="#c8102e"/>
<circle cx="413.2" cy="409.8" r="1.78" fill="#c8102e"/>
<circle cx="400.4" cy="412.5" r="1.78" fill="#c8102e"/>
<circle cx="431.8" cy="418.4" r="1.78" fill="#c8102e"/>
<circle cx="425.1" cy="444.3" r="1.78" fill="#c8102e"/>
<circle cx="431.8" cy="446.1" r="1.78" fill="#c8102e"/>
<circle cx="438.2" cy="444.7" r="1.78" fill="#c8102e"/>
<circle cx="428.5" cy="453.4" r="1.78" fill="#c8102e"/>
<circle cx="434.8" cy="451.9" r="1.78" fill="#c8102e"/>
<circle cx="456.8" cy="418.4" r="1.78" fill="#c8102e"/>
<circle cx="453.4" cy="426.5" r="1.78" fill="#c8102e"/>
<circle cx="450.3" cy="428.5" r="1.78" fill="#c8102e"/>
<circle cx="456.8" cy="428.5" r="1.78" fill="#c8102e"/>
<circle cx="462.9" cy="429.5" r="1.78" fill="#c8102e"/>
<circle cx="453.4" cy="431.1" r="1.78" fill="#c8102e"/>
<circle cx="456.8" cy="432.6" r="1.78" fill="#c8102e"/>
<circle cx="459.8" cy="435.2" r="1.78" fill="#c8102e"/>
<circle cx="453.4" cy="436" r="1.78" fill="#c8102e"/>
<circle cx="481.6" cy="416.4" r="1.78" fill="#c8102e"/>
<circle cx="481.6" cy="441.6" r="1.78" fill="#c8102e"/>
<circle cx="481.6" cy="448.3" r="1.78" fill="#c8102e"/>
<circle cx="481.6" cy="453.8" r="1.78" fill="#c8102e"/>
<circle cx="475.2" cy="457.2" r="1.78" fill="#c8102e"/>
<circle cx="488.1" cy="454.4" r="1.78" fill="#c8102e"/>
<circle cx="506.5" cy="391.2" r="1.78" fill="#c8102e"/>
<circle cx="506.5" cy="405.3" r="1.78" fill="#c8102e"/>
<circle cx="506.5" cy="429.1" r="1.78" fill="#c8102e"/>
<circle cx="502.8" cy="445.3" r="1.78" fill="#c8102e"/>
<circle cx="510.5" cy="446.7" r="1.78" fill="#c8102e"/>
<circle cx="502.8" cy="449.3" r="1.78" fill="#c8102e"/>
<circle cx="65.6" cy="582.3" r="1.78" fill="#c8102e"/>
<circle cx="71.3" cy="581.2" r="1.78" fill="#c8102e"/>
<circle cx="77.1" cy="579.2" r="1.78" fill="#c8102e"/>
<circle cx="82.9" cy="581.7" r="1.78" fill="#c8102e"/>
<circle cx="74" cy="595.2" r="1.78" fill="#c8102e"/>
<circle cx="71.3" cy="601" r="1.78" fill="#c8102e"/>
<circle cx="76.9" cy="603.8" r="1.78" fill="#c8102e"/>
<circle cx="71.3" cy="607.7" r="1.78" fill="#c8102e"/>
<circle cx="77.1" cy="608.1" r="1.78" fill="#c8102e"/>
<circle cx="74" cy="616" r="1.78" fill="#c8102e"/>
<circle cx="97.7" cy="583.3" r="1.78" fill="#c8102e"/>
<circle cx="102.1" cy="583.1" r="1.78" fill="#c8102e"/>
<circle cx="106.3" cy="585.8" r="1.78" fill="#c8102e"/>
<circle cx="110.8" cy="584.6" r="1.78" fill="#c8102e"/>
<circle cx="115" cy="583.3" r="1.78" fill="#c8102e"/>
<circle cx="104" cy="595.8" r="1.78" fill="#c8102e"/>
<circle cx="108.7" cy="596.2" r="1.78" fill="#c8102e"/>
<circle cx="106.3" cy="601" r="1.78" fill="#c8102e"/>
<circle cx="106.3" cy="609.6" r="1.78" fill="#c8102e"/>
<circle cx="106.3" cy="619.2" r="1.78" fill="#c8102e"/>
<circle cx="138.7" cy="597.1" r="1.78" fill="#c8102e"/>
<circle cx="130.2" cy="605.4" r="1.78" fill="#c8102e"/>
<circle cx="147.5" cy="606.3" r="1.78" fill="#c8102e"/>
<circle cx="138.7" cy="609.6" r="1.78" fill="#c8102e"/>
<circle cx="143.1" cy="615" r="1.78" fill="#c8102e"/>
<circle cx="134.4" cy="617.3" r="1.78" fill="#c8102e"/>
<circle cx="171" cy="607.3" r="1.78" fill="#c8102e"/>
<circle cx="173.8" cy="613.5" r="1.78" fill="#c8102e"/>
<circle cx="162.3" cy="616.9" r="1.78" fill="#c8102e"/>
<circle cx="168.1" cy="616.3" r="1.78" fill="#c8102e"/>
<circle cx="179.6" cy="616.9" r="1.78" fill="#c8102e"/>
<circle cx="162.3" cy="622.3" r="1.78" fill="#c8102e"/>
<circle cx="173.8" cy="620.2" r="1.78" fill="#c8102e"/>
<circle cx="162.3" cy="628.3" r="1.78" fill="#c8102e"/>
<circle cx="173.8" cy="626" r="1.78" fill="#c8102e"/>
<circle cx="179.6" cy="625.6" r="1.78" fill="#c8102e"/>
<circle cx="203.5" cy="566.3" r="1.78" fill="#c8102e"/>
<circle cx="203.5" cy="571.7" r="1.78" fill="#c8102e"/>
<circle cx="207.9" cy="582.3" r="1.78" fill="#c8102e"/>
<circle cx="198.8" cy="586" r="1.78" fill="#c8102e"/>
<circle cx="198.8" cy="592.3" r="1.78" fill="#c8102e"/>
<circle cx="207.9" cy="591.7" r="1.78" fill="#c8102e"/>
<circle cx="235.4" cy="569.2" r="1.78" fill="#c8102e"/>
<circle cx="235.4" cy="581.7" r="1.78" fill="#c8102e"/>
<circle cx="235.4" cy="587.5" r="1.78" fill="#c8102e"/>
<circle cx="235.4" cy="601.9" r="1.78" fill="#c8102e"/>
<circle cx="231" cy="615" r="1.78" fill="#c8102e"/>
<circle cx="240" cy="615" r="1.78" fill="#c8102e"/>
<circle cx="235.4" cy="629.2" r="1.78" fill="#c8102e"/>
</svg>
</body></html>
